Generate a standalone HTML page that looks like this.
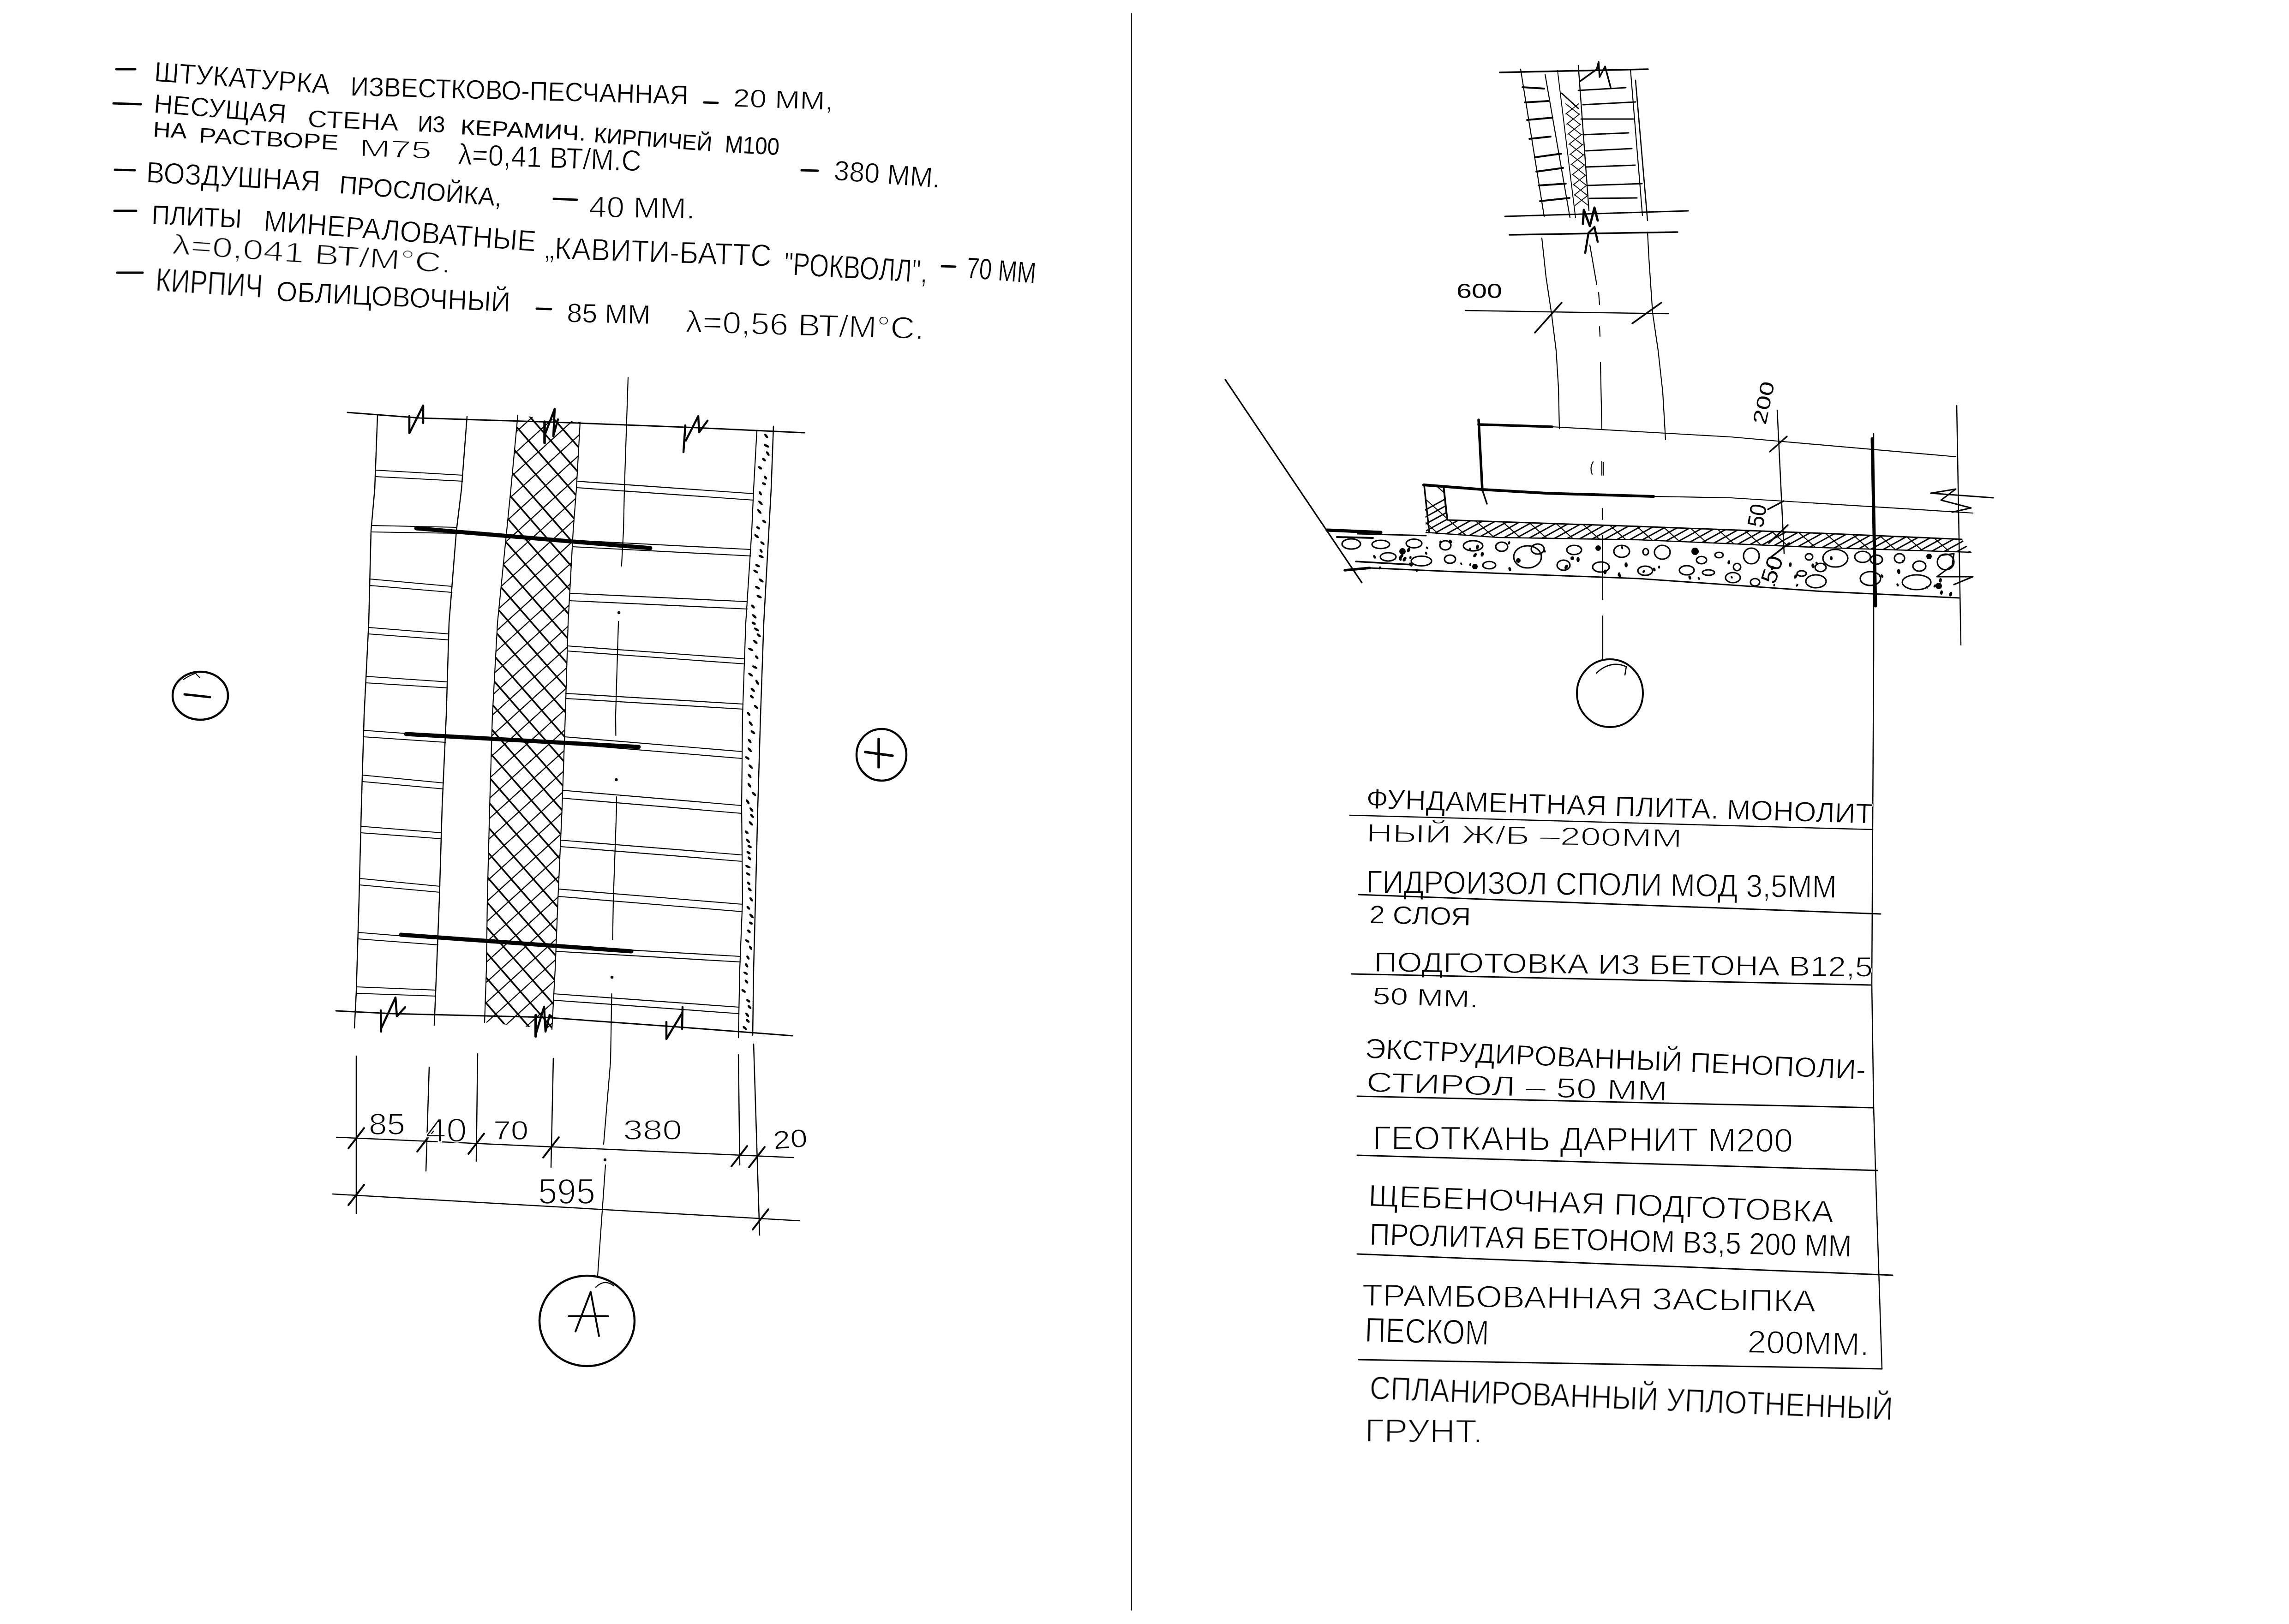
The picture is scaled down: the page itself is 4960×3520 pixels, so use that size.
<!DOCTYPE html>
<html><head><meta charset="utf-8"><title>sketch</title>
<style>
html,body{margin:0;padding:0;background:#fff;}
svg{display:block;}
.t{font-family:"Liberation Sans",sans-serif;fill:#000;stroke:#fff;stroke-width:0;}
</style></head>
<body>
<svg width="4960" height="3520" viewBox="0 0 4960 3520" stroke-linecap="round">
<rect width="4960" height="3520" fill="#fff"/>
<g opacity="0.999">
<line x1="2452.0" y1="29.0" x2="2452.0" y2="3490.0" stroke="#222" stroke-width="2"/>
<line x1="252.0" y1="150.0" x2="293.0" y2="150.0" stroke="#000" stroke-width="5"/>
<text class="t" x="333.0" y="176.0" font-size="61.0" textLength="382.0" lengthAdjust="spacingAndGlyphs" transform="rotate(4.20 333.0 176.0)" style="stroke-width:0.94px">ШТУКАТУРКА</text>
<text class="t" x="759.0" y="207.0" font-size="58.1" textLength="732.2" lengthAdjust="spacingAndGlyphs" transform="rotate(1.49 759.0 207.0)" style="stroke-width:0.66px">ИЗВЕСТКОВО-ПЕСЧАННАЯ</text>
<line x1="1526.0" y1="222.0" x2="1555.0" y2="223.0" stroke="#000" stroke-width="5"/>
<text class="t" x="1588.0" y="231.0" font-size="55.2" textLength="217.1" lengthAdjust="spacingAndGlyphs" transform="rotate(1.85 1588.0 231.0)" style="stroke-width:1.01px">20 ММ,</text>
<line x1="246.0" y1="224.0" x2="305.0" y2="226.0" stroke="#000" stroke-width="5"/>
<text class="t" x="332.0" y="244.0" font-size="58.1" textLength="287.9" lengthAdjust="spacingAndGlyphs" transform="rotate(4.58 332.0 244.0)" style="stroke-width:0.75px">НЕСУЩАЯ</text>
<text class="t" x="666.0" y="275.0" font-size="52.3" textLength="197.2" lengthAdjust="spacingAndGlyphs" transform="rotate(2.33 666.0 275.0)" style="stroke-width:0.60px">СТЕНА</text>
<text class="t" x="905.0" y="285.0" font-size="49.4" textLength="59.0" lengthAdjust="spacingAndGlyphs" transform="rotate(1.94 905.0 285.0)" style="stroke:none">ИЗ</text>
<text class="t" x="997.0" y="291.0" font-size="46.5" textLength="272.4" lengthAdjust="spacingAndGlyphs" transform="rotate(2.95 997.0 291.0)" style="stroke:none">КЕРАМИЧ.</text>
<text class="t" x="1286.0" y="308.0" font-size="46.5" textLength="256.8" lengthAdjust="spacingAndGlyphs" transform="rotate(4.47 1286.0 308.0)" style="stroke:none">КИРПИЧЕЙ</text>
<text class="t" x="1570.0" y="330.0" font-size="52.3" textLength="118.2" lengthAdjust="spacingAndGlyphs" transform="rotate(2.91 1570.0 330.0)" style="stroke:none">М100</text>
<text class="t" x="331.0" y="296.0" font-size="46.5" textLength="73.1" lengthAdjust="spacingAndGlyphs" transform="rotate(3.14 331.0 296.0)" style="stroke:none">НА</text>
<text class="t" x="430.0" y="309.0" font-size="46.5" textLength="303.4" lengthAdjust="spacingAndGlyphs" transform="rotate(3.02 430.0 309.0)" style="stroke-width:0.31px">РАСТВОРЕ</text>
<text class="t" x="778.0" y="338.0" font-size="52.3" textLength="157.1" lengthAdjust="spacingAndGlyphs" transform="rotate(2.19 778.0 338.0)" style="stroke-width:1.64px">М75</text>
<text class="t" x="992.0" y="356.0" font-size="64.0" textLength="397.3" lengthAdjust="spacingAndGlyphs" transform="rotate(2.16 992.0 356.0)" style="stroke-width:1.11px">λ=0,41 ВТ/М.С</text>
<line x1="1737.0" y1="369.0" x2="1772.0" y2="370.0" stroke="#000" stroke-width="5"/>
<text class="t" x="1806.0" y="390.0" font-size="61.0" textLength="230.6" lengthAdjust="spacingAndGlyphs" transform="rotate(4.23 1806.0 390.0)" style="stroke-width:0.97px">380 ММ.</text>
<line x1="249.0" y1="368.0" x2="292.0" y2="369.0" stroke="#000" stroke-width="5"/>
<text class="t" x="316.0" y="395.0" font-size="64.0" textLength="377.5" lengthAdjust="spacingAndGlyphs" transform="rotate(3.04 316.0 395.0)" style="stroke-width:1.08px">ВОЗДУШНАЯ</text>
<text class="t" x="734.0" y="419.0" font-size="55.2" textLength="353.1" lengthAdjust="spacingAndGlyphs" transform="rotate(4.55 734.0 419.0)" style="stroke-width:0.50px">ПРОСЛОЙКА,</text>
<line x1="1200.0" y1="431.0" x2="1250.0" y2="433.0" stroke="#000" stroke-width="5"/>
<text class="t" x="1276.0" y="470.0" font-size="64.0" textLength="230.0" lengthAdjust="spacingAndGlyphs" transform="rotate(1.00 1276.0 470.0)" style="stroke-width:1.54px">40 ММ.</text>
<line x1="248.0" y1="457.0" x2="295.0" y2="457.0" stroke="#000" stroke-width="5"/>
<text class="t" x="328.0" y="485.0" font-size="58.1" textLength="195.2" lengthAdjust="spacingAndGlyphs" transform="rotate(2.64 328.0 485.0)" style="stroke-width:0.62px">ПЛИТЫ</text>
<text class="t" x="570.0" y="500.0" font-size="64.0" textLength="591.7" lengthAdjust="spacingAndGlyphs" transform="rotate(4.36 570.0 500.0)" style="stroke-width:1.14px">МИНЕРАЛОВАТНЫЕ</text>
<text class="t" x="1180.0" y="560.0" font-size="66.9" textLength="491.3" lengthAdjust="spacingAndGlyphs" transform="rotate(1.98 1180.0 560.0)" style="stroke-width:1.37px">„КАВИТИ-БАТТС</text>
<text class="t" x="1698.0" y="595.0" font-size="69.8" textLength="311.5" lengthAdjust="spacingAndGlyphs" transform="rotate(3.31 1698.0 595.0)" style="stroke-width:1.09px">"РОКВОЛЛ",</text>
<line x1="2041.0" y1="577.0" x2="2070.0" y2="578.0" stroke="#000" stroke-width="5"/>
<text class="t" x="2093.0" y="602.0" font-size="64.0" textLength="150.5" lengthAdjust="spacingAndGlyphs" transform="rotate(4.57 2093.0 602.0)" style="stroke-width:0.61px">70 ММ</text>
<text class="t" x="372.0" y="550.0" font-size="61.0" textLength="606.5" lengthAdjust="spacingAndGlyphs" transform="rotate(3.97 372.0 550.0)" style="stroke-width:1.94px">λ=0,041 ВТ/М°С.</text>
<line x1="254.0" y1="591.0" x2="309.0" y2="591.0" stroke="#000" stroke-width="5"/>
<text class="t" x="336.0" y="630.0" font-size="69.8" textLength="232.5" lengthAdjust="spacingAndGlyphs" transform="rotate(3.70 336.0 630.0)" style="stroke-width:1.20px">КИРПИЧ</text>
<text class="t" x="598.0" y="652.0" font-size="61.0" textLength="507.6" lengthAdjust="spacingAndGlyphs" transform="rotate(2.71 598.0 652.0)" style="stroke-width:0.93px">ОБЛИЦОВОЧНЫЙ</text>
<line x1="1163.0" y1="669.0" x2="1194.0" y2="670.0" stroke="#000" stroke-width="5"/>
<text class="t" x="1228.0" y="698.0" font-size="58.1" textLength="181.0" lengthAdjust="spacingAndGlyphs" transform="rotate(1.27 1228.0 698.0)" style="stroke-width:0.85px">85 ММ</text>
<text class="t" x="1485.0" y="720.0" font-size="66.9" textLength="517.2" lengthAdjust="spacingAndGlyphs" transform="rotate(1.66 1485.0 720.0)" style="stroke-width:1.87px">λ=0,56 ВТ/М°С.</text>
<polyline points="753.0,894.0 910.0,906.0 1200.0,915.0 1510.0,927.0 1743.0,938.0" fill="none" stroke="#000" stroke-width="3" stroke-linejoin="round" stroke-linecap="round"/>
<polyline points="887.0,902.0 887.0,939.0 917.0,879.0 917.0,917.0" fill="none" stroke="#000" stroke-width="4.5" stroke-linejoin="round" stroke-linecap="round"/>
<polyline points="1180.0,914.0 1180.0,960.0" fill="none" stroke="#000" stroke-width="5.5" stroke-linejoin="round" stroke-linecap="round"/>
<polyline points="1180.0,944.0 1202.0,886.0 1199.0,945.0 1209.0,909.0" fill="none" stroke="#000" stroke-width="4.5" stroke-linejoin="round" stroke-linecap="round"/>
<polyline points="1485.0,922.0 1481.0,980.0" fill="none" stroke="#000" stroke-width="4.5" stroke-linejoin="round" stroke-linecap="round"/>
<polyline points="1486.0,955.0 1513.0,902.0 1515.0,937.0 1533.0,912.0" fill="none" stroke="#000" stroke-width="4.5" stroke-linejoin="round" stroke-linecap="round"/>
<polyline points="728.0,2191.0 850.0,2197.0 1180.0,2205.0 1470.0,2226.0 1717.0,2245.0" fill="none" stroke="#000" stroke-width="3" stroke-linejoin="round" stroke-linecap="round"/>
<polyline points="825.0,2190.0 826.0,2236.0" fill="none" stroke="#000" stroke-width="4.5" stroke-linejoin="round" stroke-linecap="round"/>
<polyline points="826.0,2229.0 857.0,2162.0 860.0,2203.0 878.0,2183.0" fill="none" stroke="#000" stroke-width="4.5" stroke-linejoin="round" stroke-linecap="round"/>
<polyline points="1161.0,2201.0 1161.0,2246.0" fill="none" stroke="#000" stroke-width="6" stroke-linejoin="round" stroke-linecap="round"/>
<polyline points="1162.0,2238.0 1179.0,2182.0 1182.0,2236.0 1191.0,2200.0 1195.0,2203.0" fill="none" stroke="#000" stroke-width="4.5" stroke-linejoin="round" stroke-linecap="round"/>
<polyline points="1444.0,2215.0 1444.0,2252.0 1478.0,2196.0" fill="none" stroke="#000" stroke-width="4.5" stroke-linejoin="round" stroke-linecap="round"/>
<polyline points="1479.0,2183.0 1478.0,2230.0" fill="none" stroke="#000" stroke-width="4.5" stroke-linejoin="round" stroke-linecap="round"/>
<polyline points="818.0,901.0 812.0,1060.0 804.0,1150.0 799.0,1350.0 789.0,1550.0 783.0,1750.0 778.0,1950.0 772.0,2150.0 768.0,2228.0" fill="none" stroke="#000" stroke-width="2.5" stroke-linejoin="round" stroke-linecap="round"/>
<polyline points="1012.0,903.0 1000.0,1060.0 989.0,1150.0 973.0,1350.0 967.0,1550.0 958.0,1750.0 952.0,1950.0 946.0,2100.0 941.0,2222.0" fill="none" stroke="#000" stroke-width="2.5" stroke-linejoin="round" stroke-linecap="round"/>
<polyline points="1122.0,900.0 1107.0,1060.0 1098.0,1150.0 1078.0,1350.0 1067.0,1550.0 1061.0,1750.0 1056.0,1950.0 1054.0,2100.0 1050.0,2216.0" fill="none" stroke="#000" stroke-width="2.2" stroke-linejoin="round" stroke-linecap="round"/>
<polyline points="1257.0,915.0 1249.0,1060.0 1242.0,1150.0 1231.0,1350.0 1225.0,1550.0 1218.0,1750.0 1209.0,1950.0 1203.0,2100.0 1196.0,2231.0" fill="none" stroke="#000" stroke-width="2.2" stroke-linejoin="round" stroke-linecap="round"/>
<polyline points="1640.0,934.0 1633.0,1060.0 1629.0,1150.0 1616.0,1350.0 1609.0,1550.0 1607.0,1750.0 1609.0,1950.0 1603.0,2100.0 1600.0,2249.0" fill="none" stroke="#000" stroke-width="2.2" stroke-linejoin="round" stroke-linecap="round"/>
<polyline points="1676.0,924.0 1671.0,1060.0 1666.0,1150.0 1655.0,1350.0 1648.0,1550.0 1642.0,1750.0 1637.0,1950.0 1633.0,2100.0 1631.0,2244.0" fill="none" stroke="#000" stroke-width="2.5" stroke-linejoin="round" stroke-linecap="round"/>
<polyline points="1361.0,818.0 1353.0,1060.0 1351.0,1150.0 1346.8,1227.0" fill="none" stroke="#000" stroke-width="2.2" stroke-linejoin="round" stroke-linecap="round"/>
<polyline points="1340.2,1347.0 1340.0,1350.0 1334.0,1550.0 1334.4,1594.0" fill="none" stroke="#000" stroke-width="2.2" stroke-linejoin="round" stroke-linecap="round"/>
<polyline points="1335.8,1727.0 1336.0,1750.0 1329.0,1950.0 1327.5,2037.0" fill="none" stroke="#000" stroke-width="2.2" stroke-linejoin="round" stroke-linecap="round"/>
<polyline points="1325.5,2154.0 1323.0,2300.0 1308.0,2480.0" fill="none" stroke="#000" stroke-width="2.2" stroke-linejoin="round" stroke-linecap="round"/>
<polyline points="1312.0,2525.0 1295.0,2766.0" fill="none" stroke="#000" stroke-width="2.2" stroke-linejoin="round" stroke-linecap="round"/>
<circle cx="1341.2" cy="1328" r="3.2" fill="#000"/>
<circle cx="1335.4" cy="1690" r="3.2" fill="#000"/>
<circle cx="1326.1" cy="2118" r="3.2" fill="#000"/>
<circle cx="1311.0" cy="2514" r="3.2" fill="#000"/>
<clipPath id="ins"><polygon points="1122,900 1107,1060 1098,1150 1078,1350 1067,1550 1061,1750 1056,1950 1054,2100 1050,2216 1196,2231 1203,2100 1209,1950 1218,1750 1225,1550 1231,1350 1242,1150 1249,1060 1257,915"/></clipPath>
<g clip-path="url(#ins)" stroke="#000">
<line x1="-2280" y1="880" x2="-1062.6086956521738" y2="2280" stroke-width="3.6"/>
<line x1="-739.9999999999998" y1="880" x2="-2280" y2="2280" stroke-width="2.4"/>
<line x1="-2232" y1="880" x2="-1014.6086956521738" y2="2280" stroke-width="3.6"/>
<line x1="-691.9999999999998" y1="880" x2="-2232" y2="2280" stroke-width="2.4"/>
<line x1="-2184" y1="880" x2="-966.6086956521738" y2="2280" stroke-width="3.6"/>
<line x1="-643.9999999999998" y1="880" x2="-2184" y2="2280" stroke-width="2.4"/>
<line x1="-2136" y1="880" x2="-918.6086956521738" y2="2280" stroke-width="3.6"/>
<line x1="-595.9999999999998" y1="880" x2="-2136" y2="2280" stroke-width="2.4"/>
<line x1="-2088" y1="880" x2="-870.6086956521738" y2="2280" stroke-width="3.6"/>
<line x1="-547.9999999999998" y1="880" x2="-2088" y2="2280" stroke-width="2.4"/>
<line x1="-2040" y1="880" x2="-822.6086956521738" y2="2280" stroke-width="3.6"/>
<line x1="-499.9999999999998" y1="880" x2="-2040" y2="2280" stroke-width="2.4"/>
<line x1="-1992" y1="880" x2="-774.6086956521738" y2="2280" stroke-width="3.6"/>
<line x1="-451.9999999999998" y1="880" x2="-1992" y2="2280" stroke-width="2.4"/>
<line x1="-1944" y1="880" x2="-726.6086956521738" y2="2280" stroke-width="3.6"/>
<line x1="-403.9999999999998" y1="880" x2="-1944" y2="2280" stroke-width="2.4"/>
<line x1="-1896" y1="880" x2="-678.6086956521738" y2="2280" stroke-width="3.6"/>
<line x1="-355.9999999999998" y1="880" x2="-1896" y2="2280" stroke-width="2.4"/>
<line x1="-1848" y1="880" x2="-630.6086956521738" y2="2280" stroke-width="3.6"/>
<line x1="-307.9999999999998" y1="880" x2="-1848" y2="2280" stroke-width="2.4"/>
<line x1="-1800" y1="880" x2="-582.6086956521738" y2="2280" stroke-width="3.6"/>
<line x1="-259.9999999999998" y1="880" x2="-1800" y2="2280" stroke-width="2.4"/>
<line x1="-1752" y1="880" x2="-534.6086956521738" y2="2280" stroke-width="3.6"/>
<line x1="-211.99999999999977" y1="880" x2="-1752" y2="2280" stroke-width="2.4"/>
<line x1="-1704" y1="880" x2="-486.60869565217376" y2="2280" stroke-width="3.6"/>
<line x1="-163.99999999999977" y1="880" x2="-1704" y2="2280" stroke-width="2.4"/>
<line x1="-1656" y1="880" x2="-438.60869565217376" y2="2280" stroke-width="3.6"/>
<line x1="-115.99999999999977" y1="880" x2="-1656" y2="2280" stroke-width="2.4"/>
<line x1="-1608" y1="880" x2="-390.60869565217376" y2="2280" stroke-width="3.6"/>
<line x1="-67.99999999999977" y1="880" x2="-1608" y2="2280" stroke-width="2.4"/>
<line x1="-1560" y1="880" x2="-342.60869565217376" y2="2280" stroke-width="3.6"/>
<line x1="-19.999999999999773" y1="880" x2="-1560" y2="2280" stroke-width="2.4"/>
<line x1="-1512" y1="880" x2="-294.60869565217376" y2="2280" stroke-width="3.6"/>
<line x1="28.000000000000227" y1="880" x2="-1512" y2="2280" stroke-width="2.4"/>
<line x1="-1464" y1="880" x2="-246.60869565217376" y2="2280" stroke-width="3.6"/>
<line x1="76.00000000000023" y1="880" x2="-1464" y2="2280" stroke-width="2.4"/>
<line x1="-1416" y1="880" x2="-198.60869565217376" y2="2280" stroke-width="3.6"/>
<line x1="124.00000000000023" y1="880" x2="-1416" y2="2280" stroke-width="2.4"/>
<line x1="-1368" y1="880" x2="-150.60869565217376" y2="2280" stroke-width="3.6"/>
<line x1="172.00000000000023" y1="880" x2="-1368" y2="2280" stroke-width="2.4"/>
<line x1="-1320" y1="880" x2="-102.60869565217376" y2="2280" stroke-width="3.6"/>
<line x1="220.00000000000023" y1="880" x2="-1320" y2="2280" stroke-width="2.4"/>
<line x1="-1272" y1="880" x2="-54.608695652173765" y2="2280" stroke-width="3.6"/>
<line x1="268.0000000000002" y1="880" x2="-1272" y2="2280" stroke-width="2.4"/>
<line x1="-1224" y1="880" x2="-6.608695652173765" y2="2280" stroke-width="3.6"/>
<line x1="316.0000000000002" y1="880" x2="-1224" y2="2280" stroke-width="2.4"/>
<line x1="-1176" y1="880" x2="41.391304347826235" y2="2280" stroke-width="3.6"/>
<line x1="364.0000000000002" y1="880" x2="-1176" y2="2280" stroke-width="2.4"/>
<line x1="-1128" y1="880" x2="89.39130434782624" y2="2280" stroke-width="3.6"/>
<line x1="412.0000000000002" y1="880" x2="-1128" y2="2280" stroke-width="2.4"/>
<line x1="-1080" y1="880" x2="137.39130434782624" y2="2280" stroke-width="3.6"/>
<line x1="460.0000000000002" y1="880" x2="-1080" y2="2280" stroke-width="2.4"/>
<line x1="-1032" y1="880" x2="185.39130434782624" y2="2280" stroke-width="3.6"/>
<line x1="508.0000000000002" y1="880" x2="-1032" y2="2280" stroke-width="2.4"/>
<line x1="-984" y1="880" x2="233.39130434782624" y2="2280" stroke-width="3.6"/>
<line x1="556.0000000000002" y1="880" x2="-984" y2="2280" stroke-width="2.4"/>
<line x1="-936" y1="880" x2="281.39130434782624" y2="2280" stroke-width="3.6"/>
<line x1="604.0000000000002" y1="880" x2="-936" y2="2280" stroke-width="2.4"/>
<line x1="-888" y1="880" x2="329.39130434782624" y2="2280" stroke-width="3.6"/>
<line x1="652.0000000000002" y1="880" x2="-888" y2="2280" stroke-width="2.4"/>
<line x1="-840" y1="880" x2="377.39130434782624" y2="2280" stroke-width="3.6"/>
<line x1="700.0000000000002" y1="880" x2="-840" y2="2280" stroke-width="2.4"/>
<line x1="-792" y1="880" x2="425.39130434782624" y2="2280" stroke-width="3.6"/>
<line x1="748.0000000000002" y1="880" x2="-792" y2="2280" stroke-width="2.4"/>
<line x1="-744" y1="880" x2="473.39130434782624" y2="2280" stroke-width="3.6"/>
<line x1="796.0000000000002" y1="880" x2="-744" y2="2280" stroke-width="2.4"/>
<line x1="-696" y1="880" x2="521.3913043478262" y2="2280" stroke-width="3.6"/>
<line x1="844.0000000000002" y1="880" x2="-696" y2="2280" stroke-width="2.4"/>
<line x1="-648" y1="880" x2="569.3913043478262" y2="2280" stroke-width="3.6"/>
<line x1="892.0000000000002" y1="880" x2="-648" y2="2280" stroke-width="2.4"/>
<line x1="-600" y1="880" x2="617.3913043478262" y2="2280" stroke-width="3.6"/>
<line x1="940.0000000000002" y1="880" x2="-600" y2="2280" stroke-width="2.4"/>
<line x1="-552" y1="880" x2="665.3913043478262" y2="2280" stroke-width="3.6"/>
<line x1="988.0000000000002" y1="880" x2="-552" y2="2280" stroke-width="2.4"/>
<line x1="-504" y1="880" x2="713.3913043478262" y2="2280" stroke-width="3.6"/>
<line x1="1036.0000000000002" y1="880" x2="-504" y2="2280" stroke-width="2.4"/>
<line x1="-456" y1="880" x2="761.3913043478262" y2="2280" stroke-width="3.6"/>
<line x1="1084.0000000000002" y1="880" x2="-456" y2="2280" stroke-width="2.4"/>
<line x1="-408" y1="880" x2="809.3913043478262" y2="2280" stroke-width="3.6"/>
<line x1="1132.0000000000002" y1="880" x2="-408" y2="2280" stroke-width="2.4"/>
<line x1="-360" y1="880" x2="857.3913043478262" y2="2280" stroke-width="3.6"/>
<line x1="1180.0000000000002" y1="880" x2="-360" y2="2280" stroke-width="2.4"/>
<line x1="-312" y1="880" x2="905.3913043478262" y2="2280" stroke-width="3.6"/>
<line x1="1228.0000000000002" y1="880" x2="-312" y2="2280" stroke-width="2.4"/>
<line x1="-264" y1="880" x2="953.3913043478262" y2="2280" stroke-width="3.6"/>
<line x1="1276.0000000000002" y1="880" x2="-264" y2="2280" stroke-width="2.4"/>
<line x1="-216" y1="880" x2="1001.3913043478262" y2="2280" stroke-width="3.6"/>
<line x1="1324.0000000000002" y1="880" x2="-216" y2="2280" stroke-width="2.4"/>
<line x1="-168" y1="880" x2="1049.3913043478262" y2="2280" stroke-width="3.6"/>
<line x1="1372.0000000000002" y1="880" x2="-168" y2="2280" stroke-width="2.4"/>
<line x1="-120" y1="880" x2="1097.3913043478262" y2="2280" stroke-width="3.6"/>
<line x1="1420.0000000000002" y1="880" x2="-120" y2="2280" stroke-width="2.4"/>
<line x1="-72" y1="880" x2="1145.3913043478262" y2="2280" stroke-width="3.6"/>
<line x1="1468.0000000000002" y1="880" x2="-72" y2="2280" stroke-width="2.4"/>
<line x1="-24" y1="880" x2="1193.3913043478262" y2="2280" stroke-width="3.6"/>
<line x1="1516.0000000000002" y1="880" x2="-24" y2="2280" stroke-width="2.4"/>
<line x1="24" y1="880" x2="1241.3913043478262" y2="2280" stroke-width="3.6"/>
<line x1="1564.0000000000002" y1="880" x2="24" y2="2280" stroke-width="2.4"/>
<line x1="72" y1="880" x2="1289.3913043478262" y2="2280" stroke-width="3.6"/>
<line x1="1612.0000000000002" y1="880" x2="72" y2="2280" stroke-width="2.4"/>
<line x1="120" y1="880" x2="1337.3913043478262" y2="2280" stroke-width="3.6"/>
<line x1="1660.0000000000002" y1="880" x2="120" y2="2280" stroke-width="2.4"/>
<line x1="168" y1="880" x2="1385.3913043478262" y2="2280" stroke-width="3.6"/>
<line x1="1708.0000000000002" y1="880" x2="168" y2="2280" stroke-width="2.4"/>
<line x1="216" y1="880" x2="1433.3913043478262" y2="2280" stroke-width="3.6"/>
<line x1="1756.0000000000002" y1="880" x2="216" y2="2280" stroke-width="2.4"/>
<line x1="264" y1="880" x2="1481.3913043478262" y2="2280" stroke-width="3.6"/>
<line x1="1804.0000000000002" y1="880" x2="264" y2="2280" stroke-width="2.4"/>
<line x1="312" y1="880" x2="1529.3913043478262" y2="2280" stroke-width="3.6"/>
<line x1="1852.0000000000002" y1="880" x2="312" y2="2280" stroke-width="2.4"/>
<line x1="360" y1="880" x2="1577.3913043478262" y2="2280" stroke-width="3.6"/>
<line x1="1900.0000000000002" y1="880" x2="360" y2="2280" stroke-width="2.4"/>
<line x1="408" y1="880" x2="1625.3913043478262" y2="2280" stroke-width="3.6"/>
<line x1="1948.0000000000002" y1="880" x2="408" y2="2280" stroke-width="2.4"/>
<line x1="456" y1="880" x2="1673.3913043478262" y2="2280" stroke-width="3.6"/>
<line x1="1996.0000000000002" y1="880" x2="456" y2="2280" stroke-width="2.4"/>
<line x1="504" y1="880" x2="1721.3913043478262" y2="2280" stroke-width="3.6"/>
<line x1="2044.0000000000002" y1="880" x2="504" y2="2280" stroke-width="2.4"/>
<line x1="552" y1="880" x2="1769.3913043478262" y2="2280" stroke-width="3.6"/>
<line x1="2092.0" y1="880" x2="552" y2="2280" stroke-width="2.4"/>
<line x1="600" y1="880" x2="1817.3913043478262" y2="2280" stroke-width="3.6"/>
<line x1="2140.0" y1="880" x2="600" y2="2280" stroke-width="2.4"/>
<line x1="648" y1="880" x2="1865.3913043478262" y2="2280" stroke-width="3.6"/>
<line x1="2188.0" y1="880" x2="648" y2="2280" stroke-width="2.4"/>
<line x1="696" y1="880" x2="1913.3913043478262" y2="2280" stroke-width="3.6"/>
<line x1="2236.0" y1="880" x2="696" y2="2280" stroke-width="2.4"/>
<line x1="744" y1="880" x2="1961.3913043478262" y2="2280" stroke-width="3.6"/>
<line x1="2284.0" y1="880" x2="744" y2="2280" stroke-width="2.4"/>
<line x1="792" y1="880" x2="2009.3913043478262" y2="2280" stroke-width="3.6"/>
<line x1="2332.0" y1="880" x2="792" y2="2280" stroke-width="2.4"/>
<line x1="840" y1="880" x2="2057.391304347826" y2="2280" stroke-width="3.6"/>
<line x1="2380.0" y1="880" x2="840" y2="2280" stroke-width="2.4"/>
<line x1="888" y1="880" x2="2105.391304347826" y2="2280" stroke-width="3.6"/>
<line x1="2428.0" y1="880" x2="888" y2="2280" stroke-width="2.4"/>
<line x1="936" y1="880" x2="2153.391304347826" y2="2280" stroke-width="3.6"/>
<line x1="2476.0" y1="880" x2="936" y2="2280" stroke-width="2.4"/>
<line x1="984" y1="880" x2="2201.391304347826" y2="2280" stroke-width="3.6"/>
<line x1="2524.0" y1="880" x2="984" y2="2280" stroke-width="2.4"/>
<line x1="1032" y1="880" x2="2249.391304347826" y2="2280" stroke-width="3.6"/>
<line x1="2572.0" y1="880" x2="1032" y2="2280" stroke-width="2.4"/>
<line x1="1080" y1="880" x2="2297.391304347826" y2="2280" stroke-width="3.6"/>
<line x1="2620.0" y1="880" x2="1080" y2="2280" stroke-width="2.4"/>
<line x1="1128" y1="880" x2="2345.391304347826" y2="2280" stroke-width="3.6"/>
<line x1="2668.0" y1="880" x2="1128" y2="2280" stroke-width="2.4"/>
<line x1="1176" y1="880" x2="2393.391304347826" y2="2280" stroke-width="3.6"/>
<line x1="2716.0" y1="880" x2="1176" y2="2280" stroke-width="2.4"/>
<line x1="1224" y1="880" x2="2441.391304347826" y2="2280" stroke-width="3.6"/>
<line x1="2764.0" y1="880" x2="1224" y2="2280" stroke-width="2.4"/>
<line x1="1272" y1="880" x2="2489.391304347826" y2="2280" stroke-width="3.6"/>
<line x1="2812.0" y1="880" x2="1272" y2="2280" stroke-width="2.4"/>
<line x1="1320" y1="880" x2="2537.391304347826" y2="2280" stroke-width="3.6"/>
<line x1="2860.0" y1="880" x2="1320" y2="2280" stroke-width="2.4"/>
<line x1="1368" y1="880" x2="2585.391304347826" y2="2280" stroke-width="3.6"/>
<line x1="2908.0" y1="880" x2="1368" y2="2280" stroke-width="2.4"/>
<line x1="1416" y1="880" x2="2633.391304347826" y2="2280" stroke-width="3.6"/>
<line x1="2956.0" y1="880" x2="1416" y2="2280" stroke-width="2.4"/>
<line x1="1464" y1="880" x2="2681.391304347826" y2="2280" stroke-width="3.6"/>
<line x1="3004.0" y1="880" x2="1464" y2="2280" stroke-width="2.4"/>
<line x1="1512" y1="880" x2="2729.391304347826" y2="2280" stroke-width="3.6"/>
<line x1="3052.0" y1="880" x2="1512" y2="2280" stroke-width="2.4"/>
<line x1="1560" y1="880" x2="2777.391304347826" y2="2280" stroke-width="3.6"/>
<line x1="3100.0" y1="880" x2="1560" y2="2280" stroke-width="2.4"/>
<line x1="1608" y1="880" x2="2825.391304347826" y2="2280" stroke-width="3.6"/>
<line x1="3148.0" y1="880" x2="1608" y2="2280" stroke-width="2.4"/>
<line x1="1656" y1="880" x2="2873.391304347826" y2="2280" stroke-width="3.6"/>
<line x1="3196.0" y1="880" x2="1656" y2="2280" stroke-width="2.4"/>
<line x1="1704" y1="880" x2="2921.391304347826" y2="2280" stroke-width="3.6"/>
<line x1="3244.0" y1="880" x2="1704" y2="2280" stroke-width="2.4"/>
<line x1="1752" y1="880" x2="2969.391304347826" y2="2280" stroke-width="3.6"/>
<line x1="3292.0" y1="880" x2="1752" y2="2280" stroke-width="2.4"/>
<line x1="1800" y1="880" x2="3017.391304347826" y2="2280" stroke-width="3.6"/>
<line x1="3340.0" y1="880" x2="1800" y2="2280" stroke-width="2.4"/>
<line x1="1848" y1="880" x2="3065.391304347826" y2="2280" stroke-width="3.6"/>
<line x1="3388.0" y1="880" x2="1848" y2="2280" stroke-width="2.4"/>
<line x1="1896" y1="880" x2="3113.391304347826" y2="2280" stroke-width="3.6"/>
<line x1="3436.0" y1="880" x2="1896" y2="2280" stroke-width="2.4"/>
<line x1="1944" y1="880" x2="3161.391304347826" y2="2280" stroke-width="3.6"/>
<line x1="3484.0" y1="880" x2="1944" y2="2280" stroke-width="2.4"/>
<line x1="1992" y1="880" x2="3209.391304347826" y2="2280" stroke-width="3.6"/>
<line x1="3532.0" y1="880" x2="1992" y2="2280" stroke-width="2.4"/>
<line x1="2040" y1="880" x2="3257.391304347826" y2="2280" stroke-width="3.6"/>
<line x1="3580.0" y1="880" x2="2040" y2="2280" stroke-width="2.4"/>
<line x1="2088" y1="880" x2="3305.391304347826" y2="2280" stroke-width="3.6"/>
<line x1="3628.0" y1="880" x2="2088" y2="2280" stroke-width="2.4"/>
<line x1="2136" y1="880" x2="3353.391304347826" y2="2280" stroke-width="3.6"/>
<line x1="3676.0" y1="880" x2="2136" y2="2280" stroke-width="2.4"/>
<line x1="2184" y1="880" x2="3401.391304347826" y2="2280" stroke-width="3.6"/>
<line x1="3724.0" y1="880" x2="2184" y2="2280" stroke-width="2.4"/>
<line x1="2232" y1="880" x2="3449.391304347826" y2="2280" stroke-width="3.6"/>
<line x1="3772.0" y1="880" x2="2232" y2="2280" stroke-width="2.4"/>
<line x1="2280" y1="880" x2="3497.391304347826" y2="2280" stroke-width="3.6"/>
<line x1="3820.0" y1="880" x2="2280" y2="2280" stroke-width="2.4"/>
<line x1="2328" y1="880" x2="3545.391304347826" y2="2280" stroke-width="3.6"/>
<line x1="3868.0" y1="880" x2="2328" y2="2280" stroke-width="2.4"/>
<line x1="2376" y1="880" x2="3593.391304347826" y2="2280" stroke-width="3.6"/>
<line x1="3916.0" y1="880" x2="2376" y2="2280" stroke-width="2.4"/>
<line x1="2424" y1="880" x2="3641.391304347826" y2="2280" stroke-width="3.6"/>
<line x1="3964.0" y1="880" x2="2424" y2="2280" stroke-width="2.4"/>
<line x1="2472" y1="880" x2="3689.391304347826" y2="2280" stroke-width="3.6"/>
<line x1="4012.0" y1="880" x2="2472" y2="2280" stroke-width="2.4"/>
<line x1="2520" y1="880" x2="3737.391304347826" y2="2280" stroke-width="3.6"/>
<line x1="4060.0" y1="880" x2="2520" y2="2280" stroke-width="2.4"/>
<line x1="2568" y1="880" x2="3785.391304347826" y2="2280" stroke-width="3.6"/>
<line x1="4108.0" y1="880" x2="2568" y2="2280" stroke-width="2.4"/>
<line x1="2616" y1="880" x2="3833.391304347826" y2="2280" stroke-width="3.6"/>
<line x1="4156.0" y1="880" x2="2616" y2="2280" stroke-width="2.4"/>
<line x1="2664" y1="880" x2="3881.391304347826" y2="2280" stroke-width="3.6"/>
<line x1="4204.0" y1="880" x2="2664" y2="2280" stroke-width="2.4"/>
<line x1="2712" y1="880" x2="3929.391304347826" y2="2280" stroke-width="3.6"/>
<line x1="4252.0" y1="880" x2="2712" y2="2280" stroke-width="2.4"/>
<line x1="2760" y1="880" x2="3977.391304347826" y2="2280" stroke-width="3.6"/>
<line x1="4300.0" y1="880" x2="2760" y2="2280" stroke-width="2.4"/>
<line x1="2808" y1="880" x2="4025.391304347826" y2="2280" stroke-width="3.6"/>
<line x1="4348.0" y1="880" x2="2808" y2="2280" stroke-width="2.4"/>
<line x1="2856" y1="880" x2="4073.391304347826" y2="2280" stroke-width="3.6"/>
<line x1="4396.0" y1="880" x2="2856" y2="2280" stroke-width="2.4"/>
<line x1="2904" y1="880" x2="4121.391304347826" y2="2280" stroke-width="3.6"/>
<line x1="4444.0" y1="880" x2="2904" y2="2280" stroke-width="2.4"/>
<line x1="2952" y1="880" x2="4169.391304347826" y2="2280" stroke-width="3.6"/>
<line x1="4492.0" y1="880" x2="2952" y2="2280" stroke-width="2.4"/>
<line x1="3000" y1="880" x2="4217.391304347826" y2="2280" stroke-width="3.6"/>
<line x1="4540.0" y1="880" x2="3000" y2="2280" stroke-width="2.4"/>
<line x1="3048" y1="880" x2="4265.391304347826" y2="2280" stroke-width="3.6"/>
<line x1="4588.0" y1="880" x2="3048" y2="2280" stroke-width="2.4"/>
<line x1="3096" y1="880" x2="4313.391304347826" y2="2280" stroke-width="3.6"/>
<line x1="4636.0" y1="880" x2="3096" y2="2280" stroke-width="2.4"/>
<line x1="3144" y1="880" x2="4361.391304347826" y2="2280" stroke-width="3.6"/>
<line x1="4684.0" y1="880" x2="3144" y2="2280" stroke-width="2.4"/>
<line x1="3192" y1="880" x2="4409.391304347826" y2="2280" stroke-width="3.6"/>
<line x1="4732.0" y1="880" x2="3192" y2="2280" stroke-width="2.4"/>
<line x1="3240" y1="880" x2="4457.391304347826" y2="2280" stroke-width="3.6"/>
<line x1="4780.0" y1="880" x2="3240" y2="2280" stroke-width="2.4"/>
<line x1="3288" y1="880" x2="4505.391304347826" y2="2280" stroke-width="3.6"/>
<line x1="4828.0" y1="880" x2="3288" y2="2280" stroke-width="2.4"/>
<line x1="3336" y1="880" x2="4553.391304347826" y2="2280" stroke-width="3.6"/>
<line x1="4876.0" y1="880" x2="3336" y2="2280" stroke-width="2.4"/>
<line x1="3384" y1="880" x2="4601.391304347826" y2="2280" stroke-width="3.6"/>
<line x1="4924.0" y1="880" x2="3384" y2="2280" stroke-width="2.4"/>
<line x1="3432" y1="880" x2="4649.391304347826" y2="2280" stroke-width="3.6"/>
<line x1="4972.0" y1="880" x2="3432" y2="2280" stroke-width="2.4"/>
<line x1="3480" y1="880" x2="4697.391304347826" y2="2280" stroke-width="3.6"/>
<line x1="5020.0" y1="880" x2="3480" y2="2280" stroke-width="2.4"/>
<line x1="3528" y1="880" x2="4745.391304347826" y2="2280" stroke-width="3.6"/>
<line x1="5068.0" y1="880" x2="3528" y2="2280" stroke-width="2.4"/>
<line x1="3576" y1="880" x2="4793.391304347826" y2="2280" stroke-width="3.6"/>
<line x1="5116.0" y1="880" x2="3576" y2="2280" stroke-width="2.4"/>
<line x1="3624" y1="880" x2="4841.391304347826" y2="2280" stroke-width="3.6"/>
<line x1="5164.0" y1="880" x2="3624" y2="2280" stroke-width="2.4"/>
<line x1="3672" y1="880" x2="4889.391304347826" y2="2280" stroke-width="3.6"/>
<line x1="5212.0" y1="880" x2="3672" y2="2280" stroke-width="2.4"/>
<line x1="3720" y1="880" x2="4937.391304347826" y2="2280" stroke-width="3.6"/>
<line x1="5260.0" y1="880" x2="3720" y2="2280" stroke-width="2.4"/>
<line x1="3768" y1="880" x2="4985.391304347826" y2="2280" stroke-width="3.6"/>
<line x1="5308.0" y1="880" x2="3768" y2="2280" stroke-width="2.4"/>
<line x1="3816" y1="880" x2="5033.391304347826" y2="2280" stroke-width="3.6"/>
<line x1="5356.0" y1="880" x2="3816" y2="2280" stroke-width="2.4"/>
<line x1="3864" y1="880" x2="5081.391304347826" y2="2280" stroke-width="3.6"/>
<line x1="5404.0" y1="880" x2="3864" y2="2280" stroke-width="2.4"/>
<line x1="3912" y1="880" x2="5129.391304347826" y2="2280" stroke-width="3.6"/>
<line x1="5452.0" y1="880" x2="3912" y2="2280" stroke-width="2.4"/>
<line x1="3960" y1="880" x2="5177.391304347826" y2="2280" stroke-width="3.6"/>
<line x1="5500.0" y1="880" x2="3960" y2="2280" stroke-width="2.4"/>
<line x1="4008" y1="880" x2="5225.391304347826" y2="2280" stroke-width="3.6"/>
<line x1="5548.0" y1="880" x2="4008" y2="2280" stroke-width="2.4"/>
<line x1="4056" y1="880" x2="5273.391304347826" y2="2280" stroke-width="3.6"/>
<line x1="5596.0" y1="880" x2="4056" y2="2280" stroke-width="2.4"/>
<line x1="4104" y1="880" x2="5321.391304347826" y2="2280" stroke-width="3.6"/>
<line x1="5644.0" y1="880" x2="4104" y2="2280" stroke-width="2.4"/>
<line x1="4152" y1="880" x2="5369.391304347826" y2="2280" stroke-width="3.6"/>
<line x1="5692.0" y1="880" x2="4152" y2="2280" stroke-width="2.4"/>
<line x1="4200" y1="880" x2="5417.391304347826" y2="2280" stroke-width="3.6"/>
<line x1="5740.0" y1="880" x2="4200" y2="2280" stroke-width="2.4"/>
<line x1="4248" y1="880" x2="5465.391304347826" y2="2280" stroke-width="3.6"/>
<line x1="5788.0" y1="880" x2="4248" y2="2280" stroke-width="2.4"/>
<line x1="4296" y1="880" x2="5513.391304347826" y2="2280" stroke-width="3.6"/>
<line x1="5836.0" y1="880" x2="4296" y2="2280" stroke-width="2.4"/>
<line x1="4344" y1="880" x2="5561.391304347826" y2="2280" stroke-width="3.6"/>
<line x1="5884.0" y1="880" x2="4344" y2="2280" stroke-width="2.4"/>
<line x1="4392" y1="880" x2="5609.391304347826" y2="2280" stroke-width="3.6"/>
<line x1="5932.0" y1="880" x2="4392" y2="2280" stroke-width="2.4"/>
</g>
<line x1="813.5" y1="1019.0" x2="1002.3" y2="1030.0" stroke="#000" stroke-width="2.2"/>
<line x1="813.5" y1="1033.0" x2="1002.3" y2="1043.0" stroke="#000" stroke-width="2.2"/>
<line x1="805.0" y1="1139.0" x2="989.9" y2="1143.0" stroke="#000" stroke-width="2.2"/>
<line x1="805.0" y1="1153.0" x2="989.9" y2="1156.0" stroke="#000" stroke-width="2.2"/>
<line x1="801.4" y1="1255.0" x2="979.3" y2="1271.0" stroke="#000" stroke-width="2.2"/>
<line x1="801.4" y1="1269.0" x2="979.3" y2="1284.0" stroke="#000" stroke-width="2.2"/>
<line x1="798.5" y1="1360.0" x2="972.3" y2="1374.0" stroke="#000" stroke-width="2.2"/>
<line x1="798.5" y1="1374.0" x2="972.3" y2="1387.0" stroke="#000" stroke-width="2.2"/>
<line x1="793.2" y1="1466.0" x2="969.2" y2="1478.0" stroke="#000" stroke-width="2.2"/>
<line x1="793.2" y1="1480.0" x2="969.2" y2="1491.0" stroke="#000" stroke-width="2.2"/>
<line x1="788.0" y1="1583.0" x2="964.9" y2="1596.0" stroke="#000" stroke-width="2.2"/>
<line x1="788.0" y1="1597.0" x2="964.9" y2="1609.0" stroke="#000" stroke-width="2.2"/>
<line x1="785.1" y1="1680.0" x2="960.4" y2="1697.0" stroke="#000" stroke-width="2.2"/>
<line x1="785.1" y1="1694.0" x2="960.4" y2="1710.0" stroke="#000" stroke-width="2.2"/>
<line x1="782.0" y1="1791.0" x2="956.4" y2="1805.0" stroke="#000" stroke-width="2.2"/>
<line x1="782.0" y1="1805.0" x2="956.4" y2="1818.0" stroke="#000" stroke-width="2.2"/>
<line x1="779.1" y1="1904.0" x2="952.9" y2="1921.0" stroke="#000" stroke-width="2.2"/>
<line x1="779.1" y1="1918.0" x2="952.9" y2="1934.0" stroke="#000" stroke-width="2.2"/>
<line x1="775.9" y1="2021.0" x2="948.6" y2="2035.0" stroke="#000" stroke-width="2.2"/>
<line x1="775.9" y1="2035.0" x2="948.6" y2="2048.0" stroke="#000" stroke-width="2.2"/>
<line x1="772.3" y1="2139.0" x2="944.1" y2="2146.0" stroke="#000" stroke-width="2.2"/>
<line x1="772.3" y1="2153.0" x2="944.1" y2="2159.0" stroke="#000" stroke-width="2.2"/>
<line x1="1249.9" y1="1043.0" x2="1632.6" y2="1070.0" stroke="#000" stroke-width="2.2"/>
<line x1="1249.9" y1="1057.0" x2="1632.6" y2="1084.0" stroke="#000" stroke-width="2.2"/>
<line x1="1240.8" y1="1171.0" x2="1626.3" y2="1191.0" stroke="#000" stroke-width="2.2"/>
<line x1="1240.8" y1="1185.0" x2="1626.3" y2="1205.0" stroke="#000" stroke-width="2.2"/>
<line x1="1234.5" y1="1286.0" x2="1619.0" y2="1304.0" stroke="#000" stroke-width="2.2"/>
<line x1="1234.5" y1="1302.0" x2="1619.0" y2="1320.0" stroke="#000" stroke-width="2.2"/>
<line x1="1229.5" y1="1400.0" x2="1613.3" y2="1428.0" stroke="#000" stroke-width="2.2"/>
<line x1="1229.5" y1="1411.0" x2="1613.3" y2="1439.0" stroke="#000" stroke-width="2.2"/>
<line x1="1226.4" y1="1503.0" x2="1609.8" y2="1526.0" stroke="#000" stroke-width="2.2"/>
<line x1="1226.4" y1="1514.0" x2="1609.8" y2="1537.0" stroke="#000" stroke-width="2.2"/>
<line x1="1223.4" y1="1597.0" x2="1608.2" y2="1629.0" stroke="#000" stroke-width="2.2"/>
<line x1="1223.4" y1="1612.0" x2="1608.2" y2="1644.0" stroke="#000" stroke-width="2.2"/>
<line x1="1219.3" y1="1713.0" x2="1607.0" y2="1746.0" stroke="#000" stroke-width="2.2"/>
<line x1="1219.3" y1="1730.0" x2="1607.0" y2="1763.0" stroke="#000" stroke-width="2.2"/>
<line x1="1214.8" y1="1821.0" x2="1608.0" y2="1853.0" stroke="#000" stroke-width="2.2"/>
<line x1="1214.8" y1="1835.0" x2="1608.0" y2="1867.0" stroke="#000" stroke-width="2.2"/>
<line x1="1210.0" y1="1927.0" x2="1608.6" y2="1960.0" stroke="#000" stroke-width="2.2"/>
<line x1="1210.0" y1="1943.0" x2="1608.6" y2="1976.0" stroke="#000" stroke-width="2.2"/>
<line x1="1205.0" y1="2050.0" x2="1604.1" y2="2073.0" stroke="#000" stroke-width="2.2"/>
<line x1="1205.0" y1="2062.0" x2="1604.1" y2="2085.0" stroke="#000" stroke-width="2.2"/>
<line x1="1200.1" y1="2154.0" x2="1601.3" y2="2183.0" stroke="#000" stroke-width="2.2"/>
<line x1="1200.1" y1="2168.0" x2="1601.3" y2="2197.0" stroke="#000" stroke-width="2.2"/>
<line x1="902.0" y1="1145.0" x2="1409.0" y2="1188.0" stroke="#000" stroke-width="9"/>
<line x1="880.0" y1="1591.0" x2="1384.0" y2="1619.0" stroke="#000" stroke-width="9"/>
<line x1="869.0" y1="2026.0" x2="1368.0" y2="2062.0" stroke="#000" stroke-width="9"/>
<ellipse cx="1660.2" cy="945.0" rx="6.0" ry="2.6" fill="#000" transform="rotate(53 1660.2 945.0)"/>
<ellipse cx="1661.1" cy="966.4" rx="6.3" ry="2.6" fill="#000" transform="rotate(26 1661.1 966.4)"/>
<ellipse cx="1663.8" cy="983.1" rx="5.8" ry="2.6" fill="#000" transform="rotate(57 1663.8 983.1)"/>
<ellipse cx="1655.4" cy="996.2" rx="5.0" ry="2.6" fill="#000" transform="rotate(44 1655.4 996.2)"/>
<ellipse cx="1646.9" cy="1014.0" rx="4.9" ry="2.6" fill="#000" transform="rotate(35 1646.9 1014.0)"/>
<ellipse cx="1658.6" cy="1035.1" rx="4.8" ry="2.6" fill="#000" transform="rotate(53 1658.6 1035.1)"/>
<ellipse cx="1655.5" cy="1048.5" rx="4.8" ry="2.6" fill="#000" transform="rotate(25 1655.5 1048.5)"/>
<ellipse cx="1647.5" cy="1069.2" rx="4.9" ry="2.6" fill="#000" transform="rotate(59 1647.5 1069.2)"/>
<ellipse cx="1647.9" cy="1089.9" rx="6.4" ry="2.6" fill="#000" transform="rotate(44 1647.9 1089.9)"/>
<ellipse cx="1645.5" cy="1108.7" rx="6.4" ry="2.6" fill="#000" transform="rotate(49 1645.5 1108.7)"/>
<ellipse cx="1656.0" cy="1130.4" rx="5.1" ry="2.6" fill="#000" transform="rotate(38 1656.0 1130.4)"/>
<ellipse cx="1642.8" cy="1144.0" rx="4.6" ry="2.6" fill="#000" transform="rotate(36 1642.8 1144.0)"/>
<ellipse cx="1639.4" cy="1162.1" rx="5.9" ry="2.6" fill="#000" transform="rotate(37 1639.4 1162.1)"/>
<ellipse cx="1652.1" cy="1177.2" rx="5.5" ry="2.6" fill="#000" transform="rotate(36 1652.1 1177.2)"/>
<ellipse cx="1649.2" cy="1194.0" rx="4.6" ry="2.6" fill="#000" transform="rotate(59 1649.2 1194.0)"/>
<ellipse cx="1649.3" cy="1206.2" rx="6.2" ry="2.6" fill="#000" transform="rotate(26 1649.3 1206.2)"/>
<ellipse cx="1641.6" cy="1226.1" rx="5.7" ry="2.6" fill="#000" transform="rotate(25 1641.6 1226.1)"/>
<ellipse cx="1637.7" cy="1238.6" rx="6.4" ry="2.6" fill="#000" transform="rotate(32 1637.7 1238.6)"/>
<ellipse cx="1649.3" cy="1258.1" rx="6.4" ry="2.6" fill="#000" transform="rotate(37 1649.3 1258.1)"/>
<ellipse cx="1641.5" cy="1273.7" rx="6.1" ry="2.6" fill="#000" transform="rotate(29 1641.5 1273.7)"/>
<ellipse cx="1645.0" cy="1293.2" rx="6.2" ry="2.6" fill="#000" transform="rotate(26 1645.0 1293.2)"/>
<ellipse cx="1631.5" cy="1314.6" rx="5.2" ry="2.6" fill="#000" transform="rotate(46 1631.5 1314.6)"/>
<ellipse cx="1634.5" cy="1335.8" rx="6.3" ry="2.6" fill="#000" transform="rotate(44 1634.5 1335.8)"/>
<ellipse cx="1633.2" cy="1350.9" rx="4.9" ry="2.6" fill="#000" transform="rotate(28 1633.2 1350.9)"/>
<ellipse cx="1639.3" cy="1364.4" rx="6.5" ry="2.6" fill="#000" transform="rotate(31 1639.3 1364.4)"/>
<ellipse cx="1644.1" cy="1376.9" rx="5.6" ry="2.6" fill="#000" transform="rotate(39 1644.1 1376.9)"/>
<ellipse cx="1636.7" cy="1391.3" rx="6.2" ry="2.6" fill="#000" transform="rotate(41 1636.7 1391.3)"/>
<ellipse cx="1626.7" cy="1407.5" rx="6.3" ry="2.6" fill="#000" transform="rotate(26 1626.7 1407.5)"/>
<ellipse cx="1639.8" cy="1424.4" rx="4.8" ry="2.6" fill="#000" transform="rotate(51 1639.8 1424.4)"/>
<ellipse cx="1635.4" cy="1445.9" rx="6.1" ry="2.6" fill="#000" transform="rotate(29 1635.4 1445.9)"/>
<ellipse cx="1626.4" cy="1462.3" rx="6.2" ry="2.6" fill="#000" transform="rotate(35 1626.4 1462.3)"/>
<ellipse cx="1640.7" cy="1478.8" rx="6.2" ry="2.6" fill="#000" transform="rotate(59 1640.7 1478.8)"/>
<ellipse cx="1631.2" cy="1495.3" rx="6.0" ry="2.6" fill="#000" transform="rotate(42 1631.2 1495.3)"/>
<ellipse cx="1629.2" cy="1510.2" rx="4.8" ry="2.6" fill="#000" transform="rotate(38 1629.2 1510.2)"/>
<ellipse cx="1638.2" cy="1532.1" rx="5.8" ry="2.6" fill="#000" transform="rotate(42 1638.2 1532.1)"/>
<ellipse cx="1622.4" cy="1547.5" rx="5.0" ry="2.6" fill="#000" transform="rotate(52 1622.4 1547.5)"/>
<ellipse cx="1626.7" cy="1568.2" rx="6.1" ry="2.6" fill="#000" transform="rotate(52 1626.7 1568.2)"/>
<ellipse cx="1631.5" cy="1587.1" rx="6.0" ry="2.6" fill="#000" transform="rotate(38 1631.5 1587.1)"/>
<ellipse cx="1624.6" cy="1606.2" rx="5.5" ry="2.6" fill="#000" transform="rotate(52 1624.6 1606.2)"/>
<ellipse cx="1624.5" cy="1625.1" rx="6.4" ry="2.6" fill="#000" transform="rotate(48 1624.5 1625.1)"/>
<ellipse cx="1619.4" cy="1642.9" rx="5.6" ry="2.6" fill="#000" transform="rotate(34 1619.4 1642.9)"/>
<ellipse cx="1626.6" cy="1661.6" rx="6.1" ry="2.6" fill="#000" transform="rotate(48 1626.6 1661.6)"/>
<ellipse cx="1624.3" cy="1681.6" rx="5.8" ry="2.6" fill="#000" transform="rotate(51 1624.3 1681.6)"/>
<ellipse cx="1623.9" cy="1701.9" rx="6.2" ry="2.6" fill="#000" transform="rotate(55 1623.9 1701.9)"/>
<ellipse cx="1633.6" cy="1720.7" rx="6.4" ry="2.6" fill="#000" transform="rotate(43 1633.6 1720.7)"/>
<ellipse cx="1620.3" cy="1738.0" rx="6.2" ry="2.6" fill="#000" transform="rotate(58 1620.3 1738.0)"/>
<ellipse cx="1628.3" cy="1754.8" rx="5.9" ry="2.6" fill="#000" transform="rotate(51 1628.3 1754.8)"/>
<ellipse cx="1629.6" cy="1768.5" rx="5.7" ry="2.6" fill="#000" transform="rotate(48 1629.6 1768.5)"/>
<ellipse cx="1627.0" cy="1784.7" rx="6.0" ry="2.6" fill="#000" transform="rotate(47 1627.0 1784.7)"/>
<ellipse cx="1617.9" cy="1803.9" rx="4.8" ry="2.6" fill="#000" transform="rotate(40 1617.9 1803.9)"/>
<ellipse cx="1620.7" cy="1822.4" rx="5.9" ry="2.6" fill="#000" transform="rotate(47 1620.7 1822.4)"/>
<ellipse cx="1624.3" cy="1834.9" rx="5.0" ry="2.6" fill="#000" transform="rotate(27 1624.3 1834.9)"/>
<ellipse cx="1622.0" cy="1848.2" rx="4.9" ry="2.6" fill="#000" transform="rotate(32 1622.0 1848.2)"/>
<ellipse cx="1624.0" cy="1860.5" rx="5.3" ry="2.6" fill="#000" transform="rotate(46 1624.0 1860.5)"/>
<ellipse cx="1620.7" cy="1878.5" rx="6.3" ry="2.6" fill="#000" transform="rotate(25 1620.7 1878.5)"/>
<ellipse cx="1621.2" cy="1894.5" rx="5.3" ry="2.6" fill="#000" transform="rotate(29 1621.2 1894.5)"/>
<ellipse cx="1622.3" cy="1914.8" rx="4.6" ry="2.6" fill="#000" transform="rotate(46 1622.3 1914.8)"/>
<ellipse cx="1624.5" cy="1927.8" rx="5.2" ry="2.6" fill="#000" transform="rotate(45 1624.5 1927.8)"/>
<ellipse cx="1627.7" cy="1949.3" rx="5.3" ry="2.6" fill="#000" transform="rotate(53 1627.7 1949.3)"/>
<ellipse cx="1621.5" cy="1967.8" rx="4.8" ry="2.6" fill="#000" transform="rotate(46 1621.5 1967.8)"/>
<ellipse cx="1628.4" cy="1985.4" rx="6.4" ry="2.6" fill="#000" transform="rotate(46 1628.4 1985.4)"/>
<ellipse cx="1627.1" cy="2000.9" rx="4.5" ry="2.6" fill="#000" transform="rotate(29 1627.1 2000.9)"/>
<ellipse cx="1622.9" cy="2018.6" rx="4.8" ry="2.6" fill="#000" transform="rotate(47 1622.9 2018.6)"/>
<ellipse cx="1619.1" cy="2039.5" rx="5.4" ry="2.6" fill="#000" transform="rotate(33 1619.1 2039.5)"/>
<ellipse cx="1626.5" cy="2054.4" rx="5.3" ry="2.6" fill="#000" transform="rotate(59 1626.5 2054.4)"/>
<ellipse cx="1620.8" cy="2075.5" rx="5.0" ry="2.6" fill="#000" transform="rotate(59 1620.8 2075.5)"/>
<ellipse cx="1617.9" cy="2092.5" rx="5.1" ry="2.6" fill="#000" transform="rotate(59 1617.9 2092.5)"/>
<ellipse cx="1615.7" cy="2109.4" rx="5.5" ry="2.6" fill="#000" transform="rotate(29 1615.7 2109.4)"/>
<ellipse cx="1617.5" cy="2127.6" rx="5.1" ry="2.6" fill="#000" transform="rotate(52 1617.5 2127.6)"/>
<ellipse cx="1611.3" cy="2147.9" rx="5.6" ry="2.6" fill="#000" transform="rotate(35 1611.3 2147.9)"/>
<ellipse cx="1621.4" cy="2169.3" rx="5.0" ry="2.6" fill="#000" transform="rotate(34 1621.4 2169.3)"/>
<ellipse cx="1624.1" cy="2182.8" rx="5.1" ry="2.6" fill="#000" transform="rotate(46 1624.1 2182.8)"/>
<ellipse cx="1619.1" cy="2199.6" rx="5.7" ry="2.6" fill="#000" transform="rotate(51 1619.1 2199.6)"/>
<ellipse cx="1620.4" cy="2212.7" rx="5.1" ry="2.6" fill="#000" transform="rotate(44 1620.4 2212.7)"/>
<ellipse cx="1613.8" cy="2228.1" rx="5.6" ry="2.6" fill="#000" transform="rotate(41 1613.8 2228.1)"/>
<line x1="729.0" y1="2465.0" x2="1719.0" y2="2509.0" stroke="#000" stroke-width="2.5"/>
<line x1="721.0" y1="2588.0" x2="1732.0" y2="2646.0" stroke="#000" stroke-width="2.5"/>
<line x1="772.0" y1="2289.0" x2="772.0" y2="2630.0" stroke="#000" stroke-width="2.5"/>
<line x1="930.0" y1="2313.0" x2="923.0" y2="2538.0" stroke="#000" stroke-width="2.5"/>
<line x1="1035.0" y1="2284.0" x2="1032.0" y2="2517.0" stroke="#000" stroke-width="2.5"/>
<line x1="1199.0" y1="2294.0" x2="1194.0" y2="2530.0" stroke="#000" stroke-width="2.5"/>
<line x1="1600.0" y1="2286.0" x2="1603.0" y2="2525.0" stroke="#000" stroke-width="2.5"/>
<line x1="1633.0" y1="2263.0" x2="1646.0" y2="2677.0" stroke="#000" stroke-width="2.5"/>
<line x1="755.0" y1="2489.0" x2="789.0" y2="2445.0" stroke="#000" stroke-width="4"/>
<line x1="904.0" y1="2496.0" x2="938.0" y2="2452.0" stroke="#000" stroke-width="4"/>
<line x1="1015.0" y1="2501.0" x2="1049.0" y2="2457.0" stroke="#000" stroke-width="4"/>
<line x1="1177.0" y1="2509.0" x2="1211.0" y2="2465.0" stroke="#000" stroke-width="4"/>
<line x1="1585.0" y1="2528.0" x2="1619.0" y2="2484.0" stroke="#000" stroke-width="4"/>
<line x1="1623.0" y1="2530.0" x2="1657.0" y2="2486.0" stroke="#000" stroke-width="4"/>
<line x1="755.0" y1="2612.0" x2="789.0" y2="2568.0" stroke="#000" stroke-width="4"/>
<line x1="1631.0" y1="2665.0" x2="1665.0" y2="2621.0" stroke="#000" stroke-width="4"/>
<text class="t" x="799.0" y="2459.0" font-size="65.4" textLength="79.0" lengthAdjust="spacingAndGlyphs" transform="rotate(0.00 799.0 2459.0)" style="stroke-width:1.69px">85</text>
<text class="t" x="922.0" y="2475.0" font-size="72.7" textLength="90.0" lengthAdjust="spacingAndGlyphs" transform="rotate(0.00 922.0 2475.0)" style="stroke-width:2.44px">40</text>
<text class="t" x="1069.0" y="2470.0" font-size="58.1" textLength="76.0" lengthAdjust="spacingAndGlyphs" transform="rotate(0.00 1069.0 2470.0)" style="stroke-width:1.28px">70</text>
<text class="t" x="1350.0" y="2470.0" font-size="61.0" textLength="128.0" lengthAdjust="spacingAndGlyphs" transform="rotate(0.00 1350.0 2470.0)" style="stroke-width:1.79px">380</text>
<text class="t" x="1677.0" y="2491.0" font-size="55.2" textLength="74.2" lengthAdjust="spacingAndGlyphs" transform="rotate(-4.64 1677.0 2491.0)" style="stroke-width:1.09px">20</text>
<text class="t" x="1166.0" y="2609.0" font-size="77.0" textLength="124.0" lengthAdjust="spacingAndGlyphs" transform="rotate(0.00 1166.0 2609.0)" style="stroke-width:2.30px">595</text>
<ellipse cx="1272.0" cy="2863.0" rx="103.0" ry="98.0" fill="none" stroke="#000" stroke-width="4.5" transform="rotate(0 1272.0 2863.0)"/>
<path d="M1291,2790 Q1310,2771 1330,2787" fill="none" stroke="#000" stroke-width="2.5"/>
<line x1="1232.0" y1="2853.0" x2="1318.0" y2="2853.0" stroke="#000" stroke-width="4"/>
<polyline points="1247.0,2886.0 1280.0,2800.0 1298.0,2896.0" fill="none" stroke="#000" stroke-width="4" stroke-linejoin="round" stroke-linecap="round"/>
<ellipse cx="434.0" cy="1508.0" rx="60.0" ry="52.0" fill="none" stroke="#000" stroke-width="4.5" transform="rotate(0 434.0 1508.0)"/>
<path d="M397,1473 Q412,1463 425,1459 M426,1462 L433,1469" fill="none" stroke="#000" stroke-width="2.2"/>
<line x1="400.0" y1="1505.0" x2="455.0" y2="1511.0" stroke="#000" stroke-width="5"/>
<ellipse cx="1910.0" cy="1636.0" rx="54.0" ry="56.0" fill="none" stroke="#000" stroke-width="4.5" transform="rotate(0 1910.0 1636.0)"/>
<line x1="1875.0" y1="1630.0" x2="1934.0" y2="1638.0" stroke="#000" stroke-width="5.5"/>
<line x1="1904.0" y1="1602.0" x2="1904.0" y2="1663.0" stroke="#000" stroke-width="5.5"/>
<line x1="3250.0" y1="157.0" x2="3571.0" y2="150.0" stroke="#000" stroke-width="3.5"/>
<polyline points="3424.0,176.0 3460.0,150.0 3464.0,134.0 3466.0,167.0 3478.0,144.0 3490.0,189.0" fill="none" stroke="#000" stroke-width="3.5" stroke-linejoin="round" stroke-linecap="round"/>
<line x1="3295.0" y1="150.0" x2="3346.0" y2="469.0" stroke="#000" stroke-width="2.2"/>
<line x1="3348.0" y1="161.0" x2="3402.0" y2="472.0" stroke="#000" stroke-width="2.2"/>
<line x1="3375.0" y1="153.0" x2="3414.0" y2="472.0" stroke="#000" stroke-width="2.0"/>
<line x1="3420.0" y1="142.0" x2="3443.0" y2="456.0" stroke="#000" stroke-width="2.4"/>
<line x1="3533.0" y1="150.0" x2="3559.0" y2="467.0" stroke="#000" stroke-width="2.2"/>
<line x1="3544.0" y1="174.0" x2="3570.0" y2="478.0" stroke="#000" stroke-width="2.6"/>
<line x1="3299.0" y1="189.0" x2="3346.0" y2="192.0" stroke="#000" stroke-width="4"/>
<line x1="3304.0" y1="222.0" x2="3355.0" y2="219.0" stroke="#000" stroke-width="4"/>
<line x1="3309.0" y1="260.0" x2="3364.0" y2="255.0" stroke="#000" stroke-width="4"/>
<line x1="3314.0" y1="301.0" x2="3360.0" y2="296.0" stroke="#000" stroke-width="4"/>
<line x1="3326.0" y1="341.0" x2="3383.0" y2="333.0" stroke="#000" stroke-width="4"/>
<line x1="3329.0" y1="372.0" x2="3387.0" y2="364.0" stroke="#000" stroke-width="4"/>
<line x1="3334.0" y1="402.0" x2="3393.0" y2="398.0" stroke="#000" stroke-width="4"/>
<line x1="3337.0" y1="436.0" x2="3401.0" y2="429.0" stroke="#000" stroke-width="4"/>
<line x1="3420.0" y1="196.0" x2="3523.0" y2="190.0" stroke="#000" stroke-width="3"/>
<line x1="3430.0" y1="227.0" x2="3544.0" y2="221.0" stroke="#000" stroke-width="3"/>
<line x1="3426.0" y1="258.0" x2="3539.0" y2="258.0" stroke="#000" stroke-width="3"/>
<line x1="3430.0" y1="292.0" x2="3529.0" y2="288.0" stroke="#000" stroke-width="3"/>
<line x1="3436.0" y1="327.0" x2="3536.0" y2="322.0" stroke="#000" stroke-width="3"/>
<line x1="3436.0" y1="362.0" x2="3543.0" y2="358.0" stroke="#000" stroke-width="3"/>
<line x1="3440.0" y1="402.0" x2="3558.0" y2="398.0" stroke="#000" stroke-width="3"/>
<line x1="3444.0" y1="430.0" x2="3547.0" y2="429.0" stroke="#000" stroke-width="3"/>
<line x1="3384.0" y1="202.0" x2="3420.0" y2="235.0" stroke="#000" stroke-width="3"/>
<line x1="3392.8" y1="225.0" x2="3420.8" y2="247.0" stroke="#000" stroke-width="1.8"/>
<line x1="3392.8" y1="247.0" x2="3420.8" y2="225.0" stroke="#000" stroke-width="1.8"/>
<line x1="3395.0" y1="247.0" x2="3423.0" y2="269.0" stroke="#000" stroke-width="1.8"/>
<line x1="3395.0" y1="269.0" x2="3423.0" y2="247.0" stroke="#000" stroke-width="1.8"/>
<line x1="3397.3" y1="269.0" x2="3425.3" y2="291.0" stroke="#000" stroke-width="1.8"/>
<line x1="3397.3" y1="291.0" x2="3425.3" y2="269.0" stroke="#000" stroke-width="1.8"/>
<line x1="3399.6" y1="291.0" x2="3427.6" y2="313.0" stroke="#000" stroke-width="1.8"/>
<line x1="3399.6" y1="313.0" x2="3427.6" y2="291.0" stroke="#000" stroke-width="1.8"/>
<line x1="3401.8" y1="313.0" x2="3429.8" y2="335.0" stroke="#000" stroke-width="1.8"/>
<line x1="3401.8" y1="335.0" x2="3429.8" y2="313.0" stroke="#000" stroke-width="1.8"/>
<line x1="3404.1" y1="335.0" x2="3432.1" y2="357.0" stroke="#000" stroke-width="1.8"/>
<line x1="3404.1" y1="357.0" x2="3432.1" y2="335.0" stroke="#000" stroke-width="1.8"/>
<line x1="3406.4" y1="357.0" x2="3434.4" y2="379.0" stroke="#000" stroke-width="1.8"/>
<line x1="3406.4" y1="379.0" x2="3434.4" y2="357.0" stroke="#000" stroke-width="1.8"/>
<line x1="3408.6" y1="379.0" x2="3436.6" y2="401.0" stroke="#000" stroke-width="1.8"/>
<line x1="3408.6" y1="401.0" x2="3436.6" y2="379.0" stroke="#000" stroke-width="1.8"/>
<line x1="3410.9" y1="401.0" x2="3438.9" y2="423.0" stroke="#000" stroke-width="1.8"/>
<line x1="3410.9" y1="423.0" x2="3438.9" y2="401.0" stroke="#000" stroke-width="1.8"/>
<line x1="3413.2" y1="423.0" x2="3441.2" y2="445.0" stroke="#000" stroke-width="1.8"/>
<line x1="3413.2" y1="445.0" x2="3441.2" y2="423.0" stroke="#000" stroke-width="1.8"/>
<line x1="3261.0" y1="469.0" x2="3658.0" y2="457.0" stroke="#000" stroke-width="3"/>
<line x1="3271.0" y1="509.0" x2="3635.0" y2="503.0" stroke="#000" stroke-width="3.5"/>
<polyline points="3430.0,485.0 3432.0,455.0 3445.0,490.0 3455.0,450.0 3462.0,478.0" fill="none" stroke="#000" stroke-width="5" stroke-linejoin="round" stroke-linecap="round"/>
<polyline points="3435.0,548.0 3442.0,505.0 3455.0,492.0 3462.0,524.0" fill="none" stroke="#000" stroke-width="4.5" stroke-linejoin="round" stroke-linecap="round"/>
<polyline points="3341.0,516.0 3350.0,600.0 3362.0,680.0 3372.0,760.0 3377.0,840.0 3379.0,929.0" fill="none" stroke="#000" stroke-width="2.2" stroke-linejoin="round" stroke-linecap="round"/>
<polyline points="3570.0,503.0 3573.0,560.0 3581.0,678.0 3593.0,760.0 3603.0,850.0 3609.0,953.0" fill="none" stroke="#000" stroke-width="2.2" stroke-linejoin="round" stroke-linecap="round"/>
<line x1="3445.0" y1="531.0" x2="3460.0" y2="617.0" stroke="#000" stroke-width="2.2"/>
<line x1="3464.0" y1="634.0" x2="3466.0" y2="660.0" stroke="#000" stroke-width="2.2"/>
<line x1="3466.0" y1="708.0" x2="3467.0" y2="729.0" stroke="#000" stroke-width="2.2"/>
<line x1="3468.0" y1="785.0" x2="3471.0" y2="929.0" stroke="#000" stroke-width="2.2"/>
<line x1="3471.0" y1="1000.0" x2="3471.0" y2="1030.0" stroke="#000" stroke-width="2.2"/>
<line x1="3472.0" y1="1102.0" x2="3472.0" y2="1126.0" stroke="#000" stroke-width="2.2"/>
<line x1="3472.0" y1="1160.0" x2="3473.0" y2="1300.0" stroke="#000" stroke-width="2.2"/>
<line x1="3473.0" y1="1335.0" x2="3473.0" y2="1430.0" stroke="#000" stroke-width="2.2"/>
<text class="t" x="3156.0" y="646.0" font-size="43.6" textLength="99.0" lengthAdjust="spacingAndGlyphs" transform="rotate(0.00 3156.0 646.0)" style="stroke:none">600</text>
<line x1="3175.0" y1="673.0" x2="3615.0" y2="680.0" stroke="#000" stroke-width="2.5"/>
<line x1="3326.0" y1="721.0" x2="3384.0" y2="656.0" stroke="#000" stroke-width="3.5"/>
<line x1="3537.0" y1="701.0" x2="3600.0" y2="656.0" stroke="#000" stroke-width="3.5"/>
<line x1="2655.0" y1="823.0" x2="2951.0" y2="1263.0" stroke="#000" stroke-width="3.2"/>
<polyline points="3204.0,920.0 3363.0,925.0" fill="none" stroke="#000" stroke-width="5.5" stroke-linejoin="round" stroke-linecap="round"/>
<polyline points="3363.0,925.0 3750.0,947.0 4238.0,990.0" fill="none" stroke="#000" stroke-width="2.2" stroke-linejoin="round" stroke-linecap="round"/>
<polyline points="3204.0,910.0 3212.0,1062.0" fill="none" stroke="#000" stroke-width="5.5" stroke-linejoin="round" stroke-linecap="round"/>
<line x1="3212.0" y1="1062.0" x2="3222.0" y2="1092.0" stroke="#000" stroke-width="3.5"/>
<polyline points="3085.0,1051.0 3212.0,1061.0 3350.0,1069.0 3583.0,1076.0" fill="none" stroke="#000" stroke-width="6" stroke-linejoin="round" stroke-linecap="round"/>
<polyline points="3583.0,1076.0 3750.0,1079.0 4275.0,1112.0" fill="none" stroke="#000" stroke-width="2.2" stroke-linejoin="round" stroke-linecap="round"/>
<path d="M3452,1001 Q3444,1014 3450,1028" fill="none" stroke="#000" stroke-width="2.2"/>
<line x1="3474.0" y1="1002.0" x2="3474.0" y2="1030.0" stroke="#000" stroke-width="2.2"/>
<polyline points="3086.0,1052.0 3097.0,1154.0" fill="none" stroke="#000" stroke-width="3.5" stroke-linejoin="round" stroke-linecap="round"/>
<polyline points="3128.0,1054.0 3136.0,1126.0" fill="none" stroke="#000" stroke-width="4" stroke-linejoin="round" stroke-linecap="round"/>
<polyline points="3136.0,1127.0 3550.0,1141.0 3950.0,1156.0 4251.0,1169.0" fill="none" stroke="#000" stroke-width="3" stroke-linejoin="round" stroke-linecap="round"/>
<polyline points="3090.0,1154.0 3247.0,1165.0 3550.0,1170.0 3950.0,1187.0 4271.0,1197.0" fill="none" stroke="#000" stroke-width="2.6" stroke-linejoin="round" stroke-linecap="round"/>
<clipPath id="wp"><polygon points="3086,1052 3128,1054 3136,1127 3550,1141 3950,1156 4251,1169 4271,1197 3950,1187 3550,1170 3247,1165 3090,1154"/></clipPath>
<g clip-path="url(#wp)" stroke="#000">
<line x1="2880" y1="1220" x2="3180" y2="1055" stroke-width="3"/>
<line x1="2908" y1="1220" x2="3208" y2="1055" stroke-width="3"/>
<line x1="2936" y1="1220" x2="3236" y2="1055" stroke-width="3"/>
<line x1="2964" y1="1220" x2="3264" y2="1055" stroke-width="3"/>
<line x1="2992" y1="1220" x2="3292" y2="1055" stroke-width="3"/>
<line x1="3020" y1="1220" x2="3320" y2="1055" stroke-width="3"/>
<line x1="3048" y1="1220" x2="3348" y2="1055" stroke-width="3"/>
<line x1="3076" y1="1220" x2="3376" y2="1055" stroke-width="3"/>
<line x1="3104" y1="1220" x2="3404" y2="1055" stroke-width="3"/>
<line x1="3132" y1="1220" x2="3432" y2="1055" stroke-width="3"/>
<line x1="3160" y1="1220" x2="3460" y2="1055" stroke-width="3"/>
<line x1="3188" y1="1220" x2="3488" y2="1055" stroke-width="3"/>
<line x1="3216" y1="1220" x2="3516" y2="1055" stroke-width="3"/>
<line x1="3244" y1="1220" x2="3544" y2="1055" stroke-width="3"/>
<line x1="3272" y1="1220" x2="3572" y2="1055" stroke-width="3"/>
<line x1="3300" y1="1220" x2="3600" y2="1055" stroke-width="3"/>
<line x1="3328" y1="1220" x2="3628" y2="1055" stroke-width="3"/>
<line x1="3356" y1="1220" x2="3656" y2="1055" stroke-width="3"/>
<line x1="3384" y1="1220" x2="3684" y2="1055" stroke-width="3"/>
<line x1="3412" y1="1220" x2="3712" y2="1055" stroke-width="3"/>
<line x1="3440" y1="1220" x2="3740" y2="1055" stroke-width="3"/>
<line x1="3468" y1="1220" x2="3768" y2="1055" stroke-width="3"/>
<line x1="3496" y1="1220" x2="3796" y2="1055" stroke-width="3"/>
<line x1="3524" y1="1220" x2="3824" y2="1055" stroke-width="3"/>
<line x1="3552" y1="1220" x2="3852" y2="1055" stroke-width="3"/>
<line x1="3580" y1="1220" x2="3880" y2="1055" stroke-width="3"/>
<line x1="3608" y1="1220" x2="3908" y2="1055" stroke-width="3"/>
<line x1="3636" y1="1220" x2="3936" y2="1055" stroke-width="3"/>
<line x1="3664" y1="1220" x2="3964" y2="1055" stroke-width="3"/>
<line x1="3692" y1="1220" x2="3992" y2="1055" stroke-width="3"/>
<line x1="3720" y1="1220" x2="4020" y2="1055" stroke-width="3"/>
<line x1="3748" y1="1220" x2="4048" y2="1055" stroke-width="3"/>
<line x1="3776" y1="1220" x2="4076" y2="1055" stroke-width="3"/>
<line x1="3804" y1="1220" x2="4104" y2="1055" stroke-width="3"/>
<line x1="3832" y1="1220" x2="4132" y2="1055" stroke-width="3"/>
<line x1="3860" y1="1220" x2="4160" y2="1055" stroke-width="3"/>
<line x1="3888" y1="1220" x2="4188" y2="1055" stroke-width="3"/>
<line x1="3916" y1="1220" x2="4216" y2="1055" stroke-width="3"/>
<line x1="3944" y1="1220" x2="4244" y2="1055" stroke-width="3"/>
<line x1="3972" y1="1220" x2="4272" y2="1055" stroke-width="3"/>
<line x1="4000" y1="1220" x2="4300" y2="1055" stroke-width="3"/>
<line x1="4028" y1="1220" x2="4328" y2="1055" stroke-width="3"/>
<line x1="4056" y1="1220" x2="4356" y2="1055" stroke-width="3"/>
<line x1="4084" y1="1220" x2="4384" y2="1055" stroke-width="3"/>
<line x1="4112" y1="1220" x2="4412" y2="1055" stroke-width="3"/>
<line x1="4140" y1="1220" x2="4440" y2="1055" stroke-width="3"/>
<line x1="4168" y1="1220" x2="4468" y2="1055" stroke-width="3"/>
<line x1="4196" y1="1220" x2="4496" y2="1055" stroke-width="3"/>
<line x1="4224" y1="1220" x2="4524" y2="1055" stroke-width="3"/>
<line x1="4252" y1="1220" x2="4552" y2="1055" stroke-width="3"/>
<line x1="4280" y1="1220" x2="4580" y2="1055" stroke-width="3"/>
<line x1="4308" y1="1220" x2="4608" y2="1055" stroke-width="3"/>
<line x1="4336" y1="1220" x2="4636" y2="1055" stroke-width="3"/>
<line x1="4364" y1="1220" x2="4664" y2="1055" stroke-width="3"/>
<line x1="4392" y1="1220" x2="4692" y2="1055" stroke-width="3"/>
<line x1="4420" y1="1220" x2="4720" y2="1055" stroke-width="3"/>
<line x1="2930" y1="1040" x2="3120" y2="1210" stroke-width="2.2"/>
<line x1="2986" y1="1040" x2="3176" y2="1210" stroke-width="2.2"/>
<line x1="3042" y1="1040" x2="3232" y2="1210" stroke-width="2.2"/>
<line x1="3098" y1="1040" x2="3288" y2="1210" stroke-width="2.2"/>
<line x1="3154" y1="1040" x2="3344" y2="1210" stroke-width="2.2"/>
<line x1="3210" y1="1040" x2="3400" y2="1210" stroke-width="2.2"/>
<line x1="3266" y1="1040" x2="3456" y2="1210" stroke-width="2.2"/>
<line x1="3322" y1="1040" x2="3512" y2="1210" stroke-width="2.2"/>
<line x1="3378" y1="1040" x2="3568" y2="1210" stroke-width="2.2"/>
<line x1="3434" y1="1040" x2="3624" y2="1210" stroke-width="2.2"/>
<line x1="3490" y1="1040" x2="3680" y2="1210" stroke-width="2.2"/>
<line x1="3546" y1="1040" x2="3736" y2="1210" stroke-width="2.2"/>
<line x1="3602" y1="1040" x2="3792" y2="1210" stroke-width="2.2"/>
<line x1="3658" y1="1040" x2="3848" y2="1210" stroke-width="2.2"/>
<line x1="3714" y1="1040" x2="3904" y2="1210" stroke-width="2.2"/>
<line x1="3770" y1="1040" x2="3960" y2="1210" stroke-width="2.2"/>
<line x1="3826" y1="1040" x2="4016" y2="1210" stroke-width="2.2"/>
<line x1="3882" y1="1040" x2="4072" y2="1210" stroke-width="2.2"/>
<line x1="3938" y1="1040" x2="4128" y2="1210" stroke-width="2.2"/>
<line x1="3994" y1="1040" x2="4184" y2="1210" stroke-width="2.2"/>
<line x1="4050" y1="1040" x2="4240" y2="1210" stroke-width="2.2"/>
<line x1="4106" y1="1040" x2="4296" y2="1210" stroke-width="2.2"/>
<line x1="4162" y1="1040" x2="4352" y2="1210" stroke-width="2.2"/>
<line x1="4218" y1="1040" x2="4408" y2="1210" stroke-width="2.2"/>
<line x1="4274" y1="1040" x2="4464" y2="1210" stroke-width="2.2"/>
<line x1="4330" y1="1040" x2="4520" y2="1210" stroke-width="2.2"/>
<line x1="4386" y1="1040" x2="4576" y2="1210" stroke-width="2.2"/>
</g>
<line x1="2876.0" y1="1149.0" x2="2992.0" y2="1154.0" stroke="#000" stroke-width="7"/>
<line x1="2897.0" y1="1164.0" x2="2975.0" y2="1166.0" stroke="#000" stroke-width="4"/>
<polyline points="2942.0,1157.0 3090.0,1161.0" fill="none" stroke="#000" stroke-width="3" stroke-linejoin="round" stroke-linecap="round"/>
<line x1="2938.0" y1="1217.0" x2="3060.0" y2="1224.0" stroke="#000" stroke-width="3.5"/>
<polyline points="2914.0,1236.0 2968.0,1231.0" fill="none" stroke="#000" stroke-width="5.5" stroke-linejoin="round" stroke-linecap="round"/>
<polyline points="2968.0,1231.0 3150.0,1239.0 3550.0,1254.0 3950.0,1282.0 4245.0,1296.0" fill="none" stroke="#000" stroke-width="3" stroke-linejoin="round" stroke-linecap="round"/>
<ellipse cx="2928.0" cy="1179.0" rx="20.0" ry="11.0" fill="none" stroke="#000" stroke-width="3.2" transform="rotate(0 2928.0 1179.0)"/>
<ellipse cx="2992.0" cy="1180.0" rx="19.0" ry="9.0" fill="none" stroke="#000" stroke-width="3.2" transform="rotate(0 2992.0 1180.0)"/>
<ellipse cx="3064.0" cy="1178.0" rx="17.0" ry="9.5" fill="none" stroke="#000" stroke-width="3.2" transform="rotate(0 3064.0 1178.0)"/>
<ellipse cx="3008.0" cy="1207.0" rx="17.0" ry="9.0" fill="none" stroke="#000" stroke-width="3.2" transform="rotate(0 3008.0 1207.0)"/>
<ellipse cx="3080.0" cy="1216.0" rx="22.0" ry="10.5" fill="none" stroke="#000" stroke-width="3.2" transform="rotate(0 3080.0 1216.0)"/>
<ellipse cx="3132.0" cy="1182.0" rx="12.0" ry="10.0" fill="none" stroke="#000" stroke-width="3.2" transform="rotate(0 3132.0 1182.0)"/>
<ellipse cx="3142.0" cy="1212.0" rx="12.0" ry="9.0" fill="none" stroke="#000" stroke-width="3.2" transform="rotate(0 3142.0 1212.0)"/>
<ellipse cx="3192.0" cy="1183.0" rx="21.0" ry="11.0" fill="none" stroke="#000" stroke-width="3.2" transform="rotate(0 3192.0 1183.0)"/>
<ellipse cx="3254.0" cy="1185.0" rx="13.0" ry="10.0" fill="none" stroke="#000" stroke-width="3.2" transform="rotate(0 3254.0 1185.0)"/>
<ellipse cx="3310.0" cy="1207.0" rx="30.0" ry="24.0" fill="none" stroke="#000" stroke-width="3.2" transform="rotate(0 3310.0 1207.0)"/>
<ellipse cx="3332.0" cy="1190.0" rx="14.0" ry="11.0" fill="none" stroke="#000" stroke-width="3.2" transform="rotate(0 3332.0 1190.0)"/>
<ellipse cx="3411.0" cy="1192.0" rx="16.0" ry="10.0" fill="none" stroke="#000" stroke-width="3.2" transform="rotate(0 3411.0 1192.0)"/>
<ellipse cx="3514.0" cy="1195.0" rx="17.0" ry="13.0" fill="none" stroke="#000" stroke-width="3.2" transform="rotate(0 3514.0 1195.0)"/>
<ellipse cx="3602.0" cy="1197.0" rx="17.0" ry="15.0" fill="none" stroke="#000" stroke-width="3.2" transform="rotate(0 3602.0 1197.0)"/>
<ellipse cx="3227.0" cy="1225.0" rx="14.0" ry="8.0" fill="none" stroke="#000" stroke-width="3.2" transform="rotate(0 3227.0 1225.0)"/>
<ellipse cx="3388.0" cy="1225.0" rx="14.0" ry="11.0" fill="none" stroke="#000" stroke-width="3.2" transform="rotate(0 3388.0 1225.0)"/>
<ellipse cx="3469.0" cy="1229.0" rx="18.0" ry="11.0" fill="none" stroke="#000" stroke-width="3.2" transform="rotate(0 3469.0 1229.0)"/>
<ellipse cx="3565.0" cy="1237.0" rx="16.0" ry="10.0" fill="none" stroke="#000" stroke-width="3.2" transform="rotate(0 3565.0 1237.0)"/>
<ellipse cx="3566.0" cy="1196.0" rx="6.0" ry="7.0" fill="none" stroke="#000" stroke-width="3.2" transform="rotate(0 3566.0 1196.0)"/>
<ellipse cx="3687.0" cy="1214.0" rx="11.0" ry="8.0" fill="none" stroke="#000" stroke-width="3.2" transform="rotate(0 3687.0 1214.0)"/>
<ellipse cx="3725.0" cy="1203.0" rx="9.0" ry="6.0" fill="none" stroke="#000" stroke-width="3.2" transform="rotate(0 3725.0 1203.0)"/>
<ellipse cx="3795.0" cy="1205.0" rx="17.0" ry="17.0" fill="none" stroke="#000" stroke-width="3.2" transform="rotate(0 3795.0 1205.0)"/>
<ellipse cx="3764.0" cy="1229.0" rx="8.0" ry="8.0" fill="none" stroke="#000" stroke-width="3.2" transform="rotate(0 3764.0 1229.0)"/>
<ellipse cx="3655.0" cy="1236.0" rx="16.0" ry="10.0" fill="none" stroke="#000" stroke-width="3.2" transform="rotate(0 3655.0 1236.0)"/>
<ellipse cx="3702.0" cy="1241.0" rx="13.0" ry="6.0" fill="none" stroke="#000" stroke-width="3.2" transform="rotate(0 3702.0 1241.0)"/>
<ellipse cx="3755.0" cy="1252.0" rx="16.0" ry="11.0" fill="none" stroke="#000" stroke-width="3.2" transform="rotate(0 3755.0 1252.0)"/>
<ellipse cx="3920.0" cy="1207.0" rx="8.0" ry="7.0" fill="none" stroke="#000" stroke-width="3.2" transform="rotate(0 3920.0 1207.0)"/>
<ellipse cx="3904.0" cy="1243.0" rx="10.0" ry="6.0" fill="none" stroke="#000" stroke-width="3.2" transform="rotate(0 3904.0 1243.0)"/>
<ellipse cx="3935.0" cy="1260.0" rx="22.0" ry="14.0" fill="none" stroke="#000" stroke-width="3.2" transform="rotate(0 3935.0 1260.0)"/>
<ellipse cx="3945.0" cy="1230.0" rx="12.0" ry="9.0" fill="none" stroke="#000" stroke-width="3.2" transform="rotate(0 3945.0 1230.0)"/>
<ellipse cx="3977.0" cy="1210.0" rx="27.0" ry="19.0" fill="none" stroke="#000" stroke-width="3.2" transform="rotate(0 3977.0 1210.0)"/>
<ellipse cx="4036.0" cy="1207.0" rx="17.0" ry="12.0" fill="none" stroke="#000" stroke-width="3.2" transform="rotate(0 4036.0 1207.0)"/>
<ellipse cx="4066.0" cy="1213.0" rx="13.0" ry="10.0" fill="none" stroke="#000" stroke-width="3.2" transform="rotate(0 4066.0 1213.0)"/>
<ellipse cx="4053.0" cy="1254.0" rx="22.0" ry="15.0" fill="none" stroke="#000" stroke-width="3.2" transform="rotate(0 4053.0 1254.0)"/>
<ellipse cx="4153.0" cy="1262.0" rx="31.0" ry="16.0" fill="none" stroke="#000" stroke-width="3.2" transform="rotate(0 4153.0 1262.0)"/>
<ellipse cx="4116.0" cy="1210.0" rx="11.0" ry="10.0" fill="none" stroke="#000" stroke-width="3.2" transform="rotate(0 4116.0 1210.0)"/>
<ellipse cx="4159.0" cy="1227.0" rx="14.0" ry="11.0" fill="none" stroke="#000" stroke-width="3.2" transform="rotate(0 4159.0 1227.0)"/>
<ellipse cx="4216.0" cy="1218.0" rx="18.0" ry="17.0" fill="none" stroke="#000" stroke-width="3.2" transform="rotate(0 4216.0 1218.0)"/>
<ellipse cx="3803.0" cy="1262.0" rx="10.0" ry="8.0" fill="none" stroke="#000" stroke-width="3.2" transform="rotate(0 3803.0 1262.0)"/>
<circle cx="3039" cy="1195" r="7" fill="#000"/>
<circle cx="3463" cy="1188" r="6" fill="#000"/>
<circle cx="3196" cy="1228" r="6" fill="#000"/>
<circle cx="3673" cy="1195" r="8" fill="#000"/>
<circle cx="4180" cy="1206" r="6" fill="#000"/>
<circle cx="4201" cy="1270" r="7" fill="#000"/>
<circle cx="3407" cy="1210" r="4" fill="#000"/>
<circle cx="3290" cy="1215" r="5" fill="#000"/>
<ellipse cx="3523.6" cy="1224.4" rx="3.4" ry="5.4" fill="#000" transform="rotate(-3 3523.6 1224.4)"/>
<ellipse cx="3595.1" cy="1229.1" rx="2.1" ry="3.4" fill="#000" transform="rotate(1 3595.1 1229.1)"/>
<ellipse cx="3752.5" cy="1251.0" rx="2.0" ry="3.1" fill="#000" transform="rotate(-16 3752.5 1251.0)"/>
<ellipse cx="3057.0" cy="1223.7" rx="3.0" ry="4.8" fill="#000" transform="rotate(-37 3057.0 1223.7)"/>
<ellipse cx="4207.0" cy="1284.3" rx="2.9" ry="4.7" fill="#000" transform="rotate(9 4207.0 1284.3)"/>
<ellipse cx="3143.2" cy="1173.4" rx="2.7" ry="4.3" fill="#000" transform="rotate(-35 3143.2 1173.4)"/>
<ellipse cx="3185.4" cy="1190.1" rx="1.9" ry="3.0" fill="#000" transform="rotate(-3 3185.4 1190.1)"/>
<ellipse cx="3508.3" cy="1244.7" rx="2.7" ry="4.3" fill="#000" transform="rotate(11 3508.3 1244.7)"/>
<ellipse cx="3584.7" cy="1234.4" rx="2.6" ry="4.1" fill="#000" transform="rotate(-18 3584.7 1234.4)"/>
<ellipse cx="4227.0" cy="1287.8" rx="3.2" ry="5.2" fill="#000" transform="rotate(17 4227.0 1287.8)"/>
<ellipse cx="3346.7" cy="1194.3" rx="2.3" ry="3.7" fill="#000" transform="rotate(-34 3346.7 1194.3)"/>
<ellipse cx="3928.5" cy="1226.5" rx="3.2" ry="5.2" fill="#000" transform="rotate(-9 3928.5 1226.5)"/>
<ellipse cx="4175.9" cy="1273.0" rx="1.8" ry="2.9" fill="#000" transform="rotate(-23 4175.9 1273.0)"/>
<ellipse cx="4114.3" cy="1238.8" rx="3.5" ry="5.5" fill="#000" transform="rotate(-8 4114.3 1238.8)"/>
<ellipse cx="3034.2" cy="1210.8" rx="3.1" ry="5.0" fill="#000" transform="rotate(-18 3034.2 1210.8)"/>
<ellipse cx="3052.4" cy="1191.9" rx="3.4" ry="5.5" fill="#000" transform="rotate(21 3052.4 1191.9)"/>
<ellipse cx="3092.2" cy="1187.4" rx="2.0" ry="3.2" fill="#000" transform="rotate(-35 3092.2 1187.4)"/>
<ellipse cx="3968.2" cy="1209.8" rx="2.8" ry="4.4" fill="#000" transform="rotate(-4 3968.2 1209.8)"/>
<ellipse cx="3186.0" cy="1223.7" rx="2.0" ry="3.2" fill="#000" transform="rotate(11 3186.0 1223.7)"/>
<ellipse cx="3090.3" cy="1199.0" rx="2.2" ry="3.5" fill="#000" transform="rotate(-18 3090.3 1199.0)"/>
<ellipse cx="4192.5" cy="1269.9" rx="2.3" ry="3.7" fill="#000" transform="rotate(31 4192.5 1269.9)"/>
<ellipse cx="3211.8" cy="1201.4" rx="3.3" ry="5.2" fill="#000" transform="rotate(11 3211.8 1201.4)"/>
<ellipse cx="3069.4" cy="1236.1" rx="2.2" ry="3.5" fill="#000" transform="rotate(-19 3069.4 1236.1)"/>
<ellipse cx="3936.8" cy="1221.0" rx="2.3" ry="3.7" fill="#000" transform="rotate(-34 3936.8 1221.0)"/>
<ellipse cx="3056.3" cy="1208.6" rx="2.2" ry="3.5" fill="#000" transform="rotate(8 3056.3 1208.6)"/>
<ellipse cx="3419.5" cy="1212.8" rx="3.4" ry="5.5" fill="#000" transform="rotate(-1 3419.5 1212.8)"/>
<ellipse cx="3681.2" cy="1253.8" rx="2.1" ry="3.4" fill="#000" transform="rotate(-28 3681.2 1253.8)"/>
<ellipse cx="4111.9" cy="1267.8" rx="2.2" ry="3.6" fill="#000" transform="rotate(-25 4111.9 1267.8)"/>
<ellipse cx="3893.9" cy="1268.6" rx="2.1" ry="3.4" fill="#000" transform="rotate(36 3893.9 1268.6)"/>
<ellipse cx="4078.0" cy="1248.6" rx="2.5" ry="4.0" fill="#000" transform="rotate(-32 4078.0 1248.6)"/>
<ellipse cx="2989.9" cy="1230.9" rx="2.2" ry="3.5" fill="#000" transform="rotate(16 2989.9 1230.9)"/>
<ellipse cx="3271.5" cy="1233.5" rx="2.8" ry="4.5" fill="#000" transform="rotate(-17 3271.5 1233.5)"/>
<ellipse cx="3166.3" cy="1222.1" rx="1.9" ry="3.1" fill="#000" transform="rotate(-22 3166.3 1222.1)"/>
<ellipse cx="3661.6" cy="1251.8" rx="2.8" ry="4.6" fill="#000" transform="rotate(-18 3661.6 1251.8)"/>
<ellipse cx="4123.4" cy="1216.7" rx="1.8" ry="2.9" fill="#000" transform="rotate(-18 4123.4 1216.7)"/>
<ellipse cx="3515.0" cy="1187.2" rx="2.1" ry="3.4" fill="#000" transform="rotate(-10 3515.0 1187.2)"/>
<ellipse cx="3678.1" cy="1197.3" rx="2.4" ry="3.9" fill="#000" transform="rotate(31 3678.1 1197.3)"/>
<ellipse cx="4204.8" cy="1257.9" rx="3.0" ry="4.8" fill="#000" transform="rotate(7 4204.8 1257.9)"/>
<ellipse cx="3121.0" cy="1174.1" rx="1.8" ry="2.9" fill="#000" transform="rotate(33 3121.0 1174.1)"/>
<ellipse cx="3844.3" cy="1268.3" rx="1.8" ry="2.9" fill="#000" transform="rotate(11 3844.3 1268.3)"/>
<ellipse cx="3562.1" cy="1238.6" rx="2.3" ry="3.7" fill="#000" transform="rotate(40 3562.1 1238.6)"/>
<ellipse cx="3037.1" cy="1205.4" rx="3.1" ry="4.9" fill="#000" transform="rotate(32 3037.1 1205.4)"/>
<ellipse cx="3890.8" cy="1249.5" rx="3.1" ry="5.0" fill="#000" transform="rotate(33 3890.8 1249.5)"/>
<ellipse cx="3393.9" cy="1228.6" rx="3.3" ry="5.3" fill="#000" transform="rotate(30 3393.9 1228.6)"/>
<ellipse cx="3478.1" cy="1239.6" rx="3.3" ry="5.2" fill="#000" transform="rotate(6 3478.1 1239.6)"/>
<ellipse cx="3746.2" cy="1218.8" rx="2.8" ry="4.5" fill="#000" transform="rotate(9 3746.2 1218.8)"/>
<ellipse cx="3043.5" cy="1211.9" rx="3.5" ry="5.6" fill="#000" transform="rotate(30 3043.5 1211.9)"/>
<ellipse cx="3879.4" cy="1223.9" rx="3.0" ry="4.9" fill="#000" transform="rotate(6 3879.4 1223.9)"/>
<ellipse cx="3508.3" cy="1244.4" rx="1.9" ry="3.1" fill="#000" transform="rotate(20 3508.3 1244.4)"/>
<ellipse cx="2978.4" cy="1206.9" rx="2.6" ry="4.2" fill="#000" transform="rotate(-22 2978.4 1206.9)"/>
<ellipse cx="3840.9" cy="1231.2" rx="2.8" ry="4.6" fill="#000" transform="rotate(34 3840.9 1231.2)"/>
<ellipse cx="3270.0" cy="1176.7" rx="2.3" ry="3.7" fill="#000" transform="rotate(14 3270.0 1176.7)"/>
<ellipse cx="3201.3" cy="1185.6" rx="3.3" ry="5.3" fill="#000" transform="rotate(13 3201.3 1185.6)"/>
<ellipse cx="3510.1" cy="1248.4" rx="2.4" ry="3.8" fill="#000" transform="rotate(13 3510.1 1248.4)"/>
<ellipse cx="3196.1" cy="1203.4" rx="3.2" ry="5.1" fill="#000" transform="rotate(33 3196.1 1203.4)"/>
<line x1="4057.0" y1="951.0" x2="4064.0" y2="1313.0" stroke="#000" stroke-width="7"/>
<polyline points="4060.0,940.0 4060.0,1420.0 4059.0,1600.0 4056.0,2133.0 4060.0,2401.0 4066.0,2600.0 4078.0,2967.0" fill="none" stroke="#000" stroke-width="2.5" stroke-linejoin="round" stroke-linecap="round"/>
<line x1="4240.0" y1="879.0" x2="4249.0" y2="1398.0" stroke="#000" stroke-width="2.5"/>
<polyline points="4184.0,1069.0 4238.0,1060.0 4206.0,1084.0 4271.0,1101.0 4230.0,1110.0" fill="none" stroke="#000" stroke-width="3" stroke-linejoin="round" stroke-linecap="round"/>
<line x1="4184.0" y1="1069.0" x2="4319.0" y2="1079.0" stroke="#000" stroke-width="3"/>
<polyline points="4204.0,1204.0 4234.0,1200.0 4230.0,1226.0 4197.0,1250.0 4275.0,1250.0 4234.0,1267.0" fill="none" stroke="#000" stroke-width="3" stroke-linejoin="round" stroke-linecap="round"/>
<line x1="3851.0" y1="889.0" x2="3866.0" y2="1200.0" stroke="#000" stroke-width="2.5"/>
<line x1="3835.0" y1="979.0" x2="3872.0" y2="946.0" stroke="#000" stroke-width="3.5"/>
<line x1="3831.0" y1="1104.0" x2="3865.0" y2="1086.0" stroke="#000" stroke-width="3.5"/>
<line x1="3833.0" y1="1177.0" x2="3874.0" y2="1138.0" stroke="#000" stroke-width="3.5"/>
<line x1="3837.0" y1="1208.0" x2="3877.0" y2="1177.0" stroke="#000" stroke-width="3.5"/>
<text class="t" font-size="42" transform="translate(3826 922) rotate(-78)" textLength="94" lengthAdjust="spacingAndGlyphs">200</text>
<text class="t" font-size="50" transform="translate(3820 1145) rotate(-80)" textLength="50" lengthAdjust="spacingAndGlyphs">50</text>
<text class="t" font-size="48" transform="translate(3846 1268) rotate(-72)" textLength="60" lengthAdjust="spacingAndGlyphs">50</text>
<ellipse cx="3488.5" cy="1502.5" rx="71.5" ry="73.5" fill="none" stroke="#000" stroke-width="4" transform="rotate(0 3488.5 1502.5)"/>
<path d="M3459,1459 Q3490,1430 3524,1445 L3521,1463" fill="none" stroke="#000" stroke-width="2.6"/>
<text class="t" x="2960.0" y="1752.0" font-size="61.0" textLength="1098.5" lengthAdjust="spacingAndGlyphs" transform="rotate(1.72 2960.0 1752.0)" style="stroke-width:1.11px">ФУНДАМЕНТНАЯ ПЛИТА. МОНОЛИТ</text>
<line x1="2925.0" y1="1767.0" x2="4058.0" y2="1798.0" stroke="#000" stroke-width="2.5"/>
<text class="t" x="2960.0" y="1824.0" font-size="55.2" textLength="685.1" lengthAdjust="spacingAndGlyphs" transform="rotate(1.00 2960.0 1824.0)" style="stroke-width:1.69px">НЫЙ Ж/Б –200ММ</text>
<text class="t" x="2960.0" y="1935.0" font-size="69.8" textLength="1020.1" lengthAdjust="spacingAndGlyphs" transform="rotate(0.62 2960.0 1935.0)" style="stroke-width:1.50px">ГИДРОИЗОЛ  СПОЛИ МОД 3,5ММ</text>
<line x1="2944.0" y1="1939.0" x2="4075.0" y2="1981.0" stroke="#000" stroke-width="3"/>
<text class="t" x="2967.0" y="2001.0" font-size="55.2" textLength="220.1" lengthAdjust="spacingAndGlyphs" transform="rotate(1.30 2967.0 2001.0)" style="stroke-width:0.78px">2 СЛОЯ</text>
<text class="t" x="2977.0" y="2106.0" font-size="61.0" textLength="1081.1" lengthAdjust="spacingAndGlyphs" transform="rotate(0.58 2977.0 2106.0)" style="stroke-width:1.46px">ПОДГОТОВКА ИЗ БЕТОНА В12,5</text>
<line x1="2929.0" y1="2111.0" x2="4053.0" y2="2135.0" stroke="#000" stroke-width="3"/>
<text class="t" x="2974.0" y="2176.0" font-size="52.3" textLength="229.1" lengthAdjust="spacingAndGlyphs" transform="rotate(2.00 2974.0 2176.0)" style="stroke-width:1.07px">50 ММ.</text>
<text class="t" x="2957.0" y="2293.0" font-size="61.0" textLength="1086.0" lengthAdjust="spacingAndGlyphs" transform="rotate(2.48 2957.0 2293.0)" style="stroke-width:1.12px">ЭКСТРУДИРОВАННЫЙ ПЕНОПОЛИ-</text>
<text class="t" x="2960.0" y="2366.0" font-size="61.0" textLength="653.3" lengthAdjust="spacingAndGlyphs" transform="rotate(1.75 2960.0 2366.0)" style="stroke-width:1.67px">СТИРОЛ  –  50 ММ</text>
<line x1="2941.0" y1="2376.0" x2="4058.0" y2="2401.0" stroke="#000" stroke-width="3"/>
<text class="t" x="2974.0" y="2491.0" font-size="72.7" textLength="911.0" lengthAdjust="spacingAndGlyphs" transform="rotate(0.38 2974.0 2491.0)" style="stroke-width:2.10px">ГЕОТКАНЬ ДАРНИТ М200</text>
<line x1="2941.0" y1="2504.0" x2="4068.0" y2="2537.0" stroke="#000" stroke-width="3"/>
<text class="t" x="2964.0" y="2614.0" font-size="66.9" textLength="1009.6" lengthAdjust="spacingAndGlyphs" transform="rotate(2.04 2964.0 2614.0)" style="stroke-width:1.76px">ЩЕБЕНОЧНАЯ ПОДГОТОВКА</text>
<text class="t" x="2967.0" y="2698.0" font-size="66.9" textLength="1045.3" lengthAdjust="spacingAndGlyphs" transform="rotate(1.43 2967.0 2698.0)" style="stroke-width:1.26px">ПРОЛИТАЯ БЕТОНОМ В3,5  200 ММ</text>
<line x1="2941.0" y1="2718.0" x2="4101.0" y2="2764.0" stroke="#000" stroke-width="3"/>
<text class="t" x="2951.0" y="2830.0" font-size="66.9" textLength="983.1" lengthAdjust="spacingAndGlyphs" transform="rotate(0.76 2951.0 2830.0)" style="stroke-width:1.86px">ТРАМБОВАННАЯ ЗАСЫПКА</text>
<text class="t" x="2957.0" y="2908.0" font-size="75.6" textLength="269.1" lengthAdjust="spacingAndGlyphs" transform="rotate(1.49 2957.0 2908.0)" style="stroke-width:1.70px">ПЕСКОМ</text>
<text class="t" x="3786.0" y="2932.0" font-size="69.8" textLength="264.1" lengthAdjust="spacingAndGlyphs" transform="rotate(1.30 3786.0 2932.0)" style="stroke-width:1.96px">200ММ.</text>
<line x1="2944.0" y1="2947.0" x2="4078.0" y2="2967.0" stroke="#000" stroke-width="3"/>
<text class="t" x="2967.0" y="3032.0" font-size="69.8" textLength="1134.9" lengthAdjust="spacingAndGlyphs" transform="rotate(2.32 2967.0 3032.0)" style="stroke-width:1.47px">СПЛАНИРОВАННЫЙ УПЛОТНЕННЫЙ</text>
<text class="t" x="2957.0" y="3125.0" font-size="69.8" textLength="256.0" lengthAdjust="spacingAndGlyphs" transform="rotate(0.45 2957.0 3125.0)" style="stroke-width:2.14px">ГРУНТ.</text>
</g>
</svg>
</body></html>
